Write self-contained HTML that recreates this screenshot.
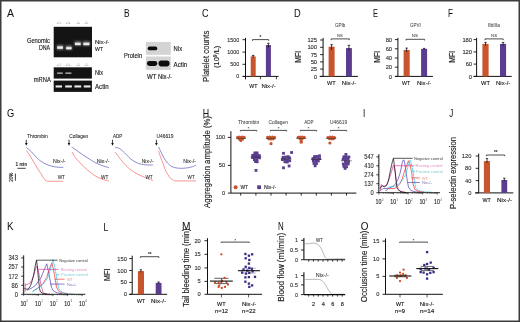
<!DOCTYPE html>
<html><head><meta charset="utf-8"><style>
html,body{margin:0;padding:0;background:#fff;}
svg{display:block;will-change:transform;}
text{font-family:'Liberation Sans', sans-serif;stroke-linejoin:round;}
</style></head><body>
<svg width="520" height="322" viewBox="0 0 520 322">
<defs>
<filter id="b05" x="-50%" y="-50%" width="200%" height="200%"><feGaussianBlur stdDeviation="0.45"/></filter>
<filter id="b08" x="-50%" y="-50%" width="200%" height="200%"><feGaussianBlur stdDeviation="0.8"/></filter>
<filter id="b03" x="-50%" y="-50%" width="200%" height="200%"><feGaussianBlur stdDeviation="0.3"/></filter>
</defs>
<rect x="0" y="0" width="520" height="322" fill="#fff"/>
<text x="7" y="16.9" font-size="11" fill="#111" stroke="#111" stroke-width="0.02" textLength="7" lengthAdjust="spacingAndGlyphs" >A</text>
<text x="56.6" y="24" font-size="3.6" fill="#808080" textLength="4.7" lengthAdjust="spacingAndGlyphs">+/+</text>
<text x="65.7" y="24" font-size="3.6" fill="#808080" textLength="5.3" lengthAdjust="spacingAndGlyphs">+/+</text>
<text x="76.3" y="24" font-size="3.6" fill="#808080" textLength="4" lengthAdjust="spacingAndGlyphs">-/-</text>
<text x="84.3" y="24" font-size="3.6" fill="#808080" textLength="4.1" lengthAdjust="spacingAndGlyphs">-/-</text>
<text x="56.6" y="65.7" font-size="3.6" fill="#808080" textLength="4.7" lengthAdjust="spacingAndGlyphs">+/+</text>
<text x="65.7" y="65.7" font-size="3.6" fill="#808080" textLength="5.3" lengthAdjust="spacingAndGlyphs">+/+</text>
<text x="76.3" y="65.7" font-size="3.6" fill="#808080" textLength="4" lengthAdjust="spacingAndGlyphs">-/-</text>
<text x="84.3" y="65.7" font-size="3.6" fill="#808080" textLength="4.1" lengthAdjust="spacingAndGlyphs">-/-</text>
<rect x="53.7" y="26.8" width="38.3" height="30.5" fill="#141414" />
<rect x="53.7" y="67.3" width="38.2" height="11.3" fill="#141414" />
<rect x="53.7" y="80.6" width="38.2" height="11.3" fill="#141414" />
<rect x="56.8" y="44.9" width="6.6" height="4.9" fill="#7a7a7a" filter="url(#b08)"/>
<rect x="57.2" y="46.2" width="5.8" height="2.6" fill="#d8d8d8" filter="url(#b05)"/>
<rect x="57.7" y="47.2" width="4.8" height="1.2" fill="#f4f4f4" filter="url(#b05)"/>
<rect x="65.7" y="45.5" width="6.3" height="4.3" fill="#7a7a7a" filter="url(#b08)"/>
<rect x="66.1" y="46.8" width="5.5" height="2.6" fill="#d8d8d8" filter="url(#b05)"/>
<rect x="66.6" y="47.8" width="4.5" height="1.2" fill="#f4f4f4" filter="url(#b05)"/>
<rect x="74.5" y="41.3" width="6.6" height="4.3" fill="#7a7a7a" filter="url(#b08)"/>
<rect x="74.9" y="42.6" width="5.8" height="2.6" fill="#d8d8d8" filter="url(#b05)"/>
<rect x="75.4" y="43.6" width="4.8" height="1.2" fill="#f4f4f4" filter="url(#b05)"/>
<rect x="82.9" y="41.3" width="7" height="4.5" fill="#7a7a7a" filter="url(#b08)"/>
<rect x="83.3" y="42.6" width="6.2" height="2.6" fill="#d8d8d8" filter="url(#b05)"/>
<rect x="83.8" y="43.6" width="5.2" height="1.2" fill="#f4f4f4" filter="url(#b05)"/>
<rect x="57.1" y="72.5" width="5.6" height="1.3" fill="#bdbdbd" filter="url(#b05)"/>
<rect x="65.4" y="72.5" width="6" height="1.3" fill="#bdbdbd" filter="url(#b05)"/>
<rect x="55.6" y="85.4" width="6.4" height="2.1" fill="#ececec" filter="url(#b05)"/>
<rect x="65.2" y="85.4" width="6.7" height="2.1" fill="#ececec" filter="url(#b05)"/>
<rect x="74.4" y="85.4" width="6.8" height="2.1" fill="#ececec" filter="url(#b05)"/>
<rect x="83.8" y="85.4" width="6.7" height="2.1" fill="#ececec" filter="url(#b05)"/>
<text x="26.9" y="42.9" font-size="6.8" fill="#1e1e1e" stroke="#1e1e1e" stroke-width="0.15" textLength="23.1" lengthAdjust="spacingAndGlyphs" >Genomic</text>
<text x="38.9" y="49.7" font-size="6.8" fill="#1e1e1e" stroke="#1e1e1e" stroke-width="0.15" textLength="11.1" lengthAdjust="spacingAndGlyphs" >DNA</text>
<text x="95" y="44.4" font-size="6.2" fill="#1e1e1e" stroke="#1e1e1e" stroke-width="0.15" textLength="14.3" lengthAdjust="spacingAndGlyphs" >Nix-/-</text>
<text x="95" y="51" font-size="6.2" fill="#1e1e1e" stroke="#1e1e1e" stroke-width="0.15" textLength="8" lengthAdjust="spacingAndGlyphs" >WT</text>
<text x="95" y="75.4" font-size="6.5" fill="#1e1e1e" stroke="#1e1e1e" stroke-width="0.15" textLength="8.1" lengthAdjust="spacingAndGlyphs" >Nix</text>
<text x="95" y="88.7" font-size="6.5" fill="#1e1e1e" stroke="#1e1e1e" stroke-width="0.15" textLength="13.6" lengthAdjust="spacingAndGlyphs" >Actin</text>
<text x="33.8" y="82" font-size="6.5" fill="#1e1e1e" stroke="#1e1e1e" stroke-width="0.15" textLength="17" lengthAdjust="spacingAndGlyphs" >mRNA</text>
<text x="124" y="16.9" font-size="11" fill="#111" stroke="#111" stroke-width="0.02" textLength="5.6" lengthAdjust="spacingAndGlyphs" >B</text>
<rect x="145.8" y="41.9" width="25" height="12.9" fill="#d4d4d4" />
<rect x="145.8" y="56.5" width="25" height="13.4" fill="#d4d4d4" />
<rect x="147.7" y="46.5" width="9.6" height="3.8" rx="1.9" fill="#0e0e0e" filter="url(#b05)"/>
<rect x="146.9" y="61.0" width="10.4" height="5.0" rx="2.4" fill="#0e0e0e" filter="url(#b05)"/>
<rect x="158.5" y="60.5" width="11.1" height="5.9" rx="2.8" fill="#0e0e0e" filter="url(#b05)"/>
<text x="173.6" y="51" font-size="6.5" fill="#1e1e1e" stroke="#1e1e1e" stroke-width="0.15" textLength="8.5" lengthAdjust="spacingAndGlyphs" >Nix</text>
<text x="173.6" y="66.7" font-size="6.5" fill="#1e1e1e" stroke="#1e1e1e" stroke-width="0.15" textLength="13.6" lengthAdjust="spacingAndGlyphs" >Actin</text>
<text x="123.9" y="57.7" font-size="6.5" fill="#1e1e1e" stroke="#1e1e1e" stroke-width="0.15" textLength="18.2" lengthAdjust="spacingAndGlyphs" >Protein</text>
<text x="147" y="78.6" font-size="6.5" fill="#1e1e1e" stroke="#1e1e1e" stroke-width="0.15" textLength="9.4" lengthAdjust="spacingAndGlyphs" >WT</text>
<text x="157.9" y="78.6" font-size="6.5" fill="#1e1e1e" stroke="#1e1e1e" stroke-width="0.15" textLength="14.2" lengthAdjust="spacingAndGlyphs" >Nix-/-</text>
<text x="202.1" y="16.9" font-size="11" fill="#111" stroke="#111" stroke-width="0.02" textLength="6.5" lengthAdjust="spacingAndGlyphs" >C</text>
<line x1="245.5" y1="37.9" x2="245.5" y2="79.3" stroke="#111" stroke-width="1" />
<line x1="242.9" y1="76.4" x2="278.6" y2="76.4" stroke="#111" stroke-width="1" />
<line x1="260.4" y1="76.4" x2="260.4" y2="79.3" stroke="#111" stroke-width="0.8" />
<line x1="276.4" y1="76.4" x2="276.4" y2="79.3" stroke="#111" stroke-width="0.8" />
<line x1="242.5" y1="39.7" x2="245.5" y2="39.7" stroke="#111" stroke-width="0.9" />
<text x="227.33" y="41.63" font-size="5.6" fill="#2a2a2a" stroke="#2a2a2a" stroke-width="0.1" textLength="11.87" lengthAdjust="spacingAndGlyphs">1500</text>
<line x1="242.5" y1="52.1" x2="245.5" y2="52.1" stroke="#111" stroke-width="0.9" />
<text x="227.33" y="54.03" font-size="5.6" fill="#2a2a2a" stroke="#2a2a2a" stroke-width="0.1" textLength="11.87" lengthAdjust="spacingAndGlyphs">1000</text>
<line x1="242.5" y1="64.3" x2="245.5" y2="64.3" stroke="#111" stroke-width="0.9" />
<text x="230.3" y="66.23" font-size="5.6" fill="#2a2a2a" stroke="#2a2a2a" stroke-width="0.1" textLength="8.9" lengthAdjust="spacingAndGlyphs">500</text>
<line x1="242.5" y1="76.4" x2="245.5" y2="76.4" stroke="#111" stroke-width="0.9" />
<text x="236.23" y="78.33" font-size="5.6" fill="#2a2a2a" stroke="#2a2a2a" stroke-width="0.1" textLength="2.97" lengthAdjust="spacingAndGlyphs">0</text>
<rect x="250.7" y="56.4" width="5" height="20" fill="#c9552f" />
<rect x="265.9" y="45" width="5" height="31.4" fill="#5a3d8e" />
<line x1="253.2" y1="55.4" x2="253.2" y2="57.4" stroke="#111" stroke-width="0.8" />
<line x1="252" y1="55.4" x2="254.4" y2="55.4" stroke="#111" stroke-width="0.8" />
<line x1="268.4" y1="43.3" x2="268.4" y2="47.4" stroke="#111" stroke-width="0.8" />
<line x1="267.2" y1="43.3" x2="269.6" y2="43.3" stroke="#111" stroke-width="0.8" />
<path d="M252.5,40.8 L252.5,39.6 L268.6,39.6 L268.6,40.8" fill="none" stroke="#222" stroke-width="0.8" />
<text x="260.5" y="39" font-size="4.5" fill="#222" stroke="#222" stroke-width="0.15" text-anchor="middle">*</text>
<text x="249.3" y="87.9" font-size="6" fill="#1e1e1e" stroke="#1e1e1e" stroke-width="0.15" textLength="8.1" lengthAdjust="spacingAndGlyphs" >WT</text>
<text x="261.4" y="87.9" font-size="6" fill="#1e1e1e" stroke="#1e1e1e" stroke-width="0.15" textLength="14.3" lengthAdjust="spacingAndGlyphs" >Nix-/-</text>
<text transform="translate(209.1,82) rotate(-90)" x="0" y="0" font-size="8.2" fill="#1e1e1e" stroke="#1e1e1e" stroke-width="0.15" textLength="51.3" lengthAdjust="spacingAndGlyphs">Platelet counts</text>
<text transform="translate(219.4,67.9) rotate(-90)" x="0" y="0" font-size="6.8" fill="#1e1e1e" stroke="#1e1e1e" stroke-width="0.15" textLength="22.2" lengthAdjust="spacingAndGlyphs">(10<tspan font-size="4.6" dy="-2.8">9</tspan><tspan dy="2.8">/L)</tspan></text>
<text x="294" y="16.9" font-size="11" fill="#111" stroke="#111" stroke-width="0.02" textLength="6.7" lengthAdjust="spacingAndGlyphs" >D</text>
<text x="335" y="27.1" font-size="4.8" fill="#444" stroke="#444" stroke-width="0.04" textLength="10.4" lengthAdjust="spacingAndGlyphs" >GPIb</text>
<text x="337.1" y="36.9" font-size="4.2" fill="#444" stroke="#444" stroke-width="0.04" textLength="5.8" lengthAdjust="spacingAndGlyphs" >NS</text>
<path d="M331.1,40.1 L331.1,38.9 L349.3,38.9 L349.3,40.1" fill="none" stroke="#222" stroke-width="0.8" />
<line x1="323.1" y1="37.9" x2="323.1" y2="76.4" stroke="#111" stroke-width="1" />
<line x1="319.7" y1="76.4" x2="357.9" y2="76.4" stroke="#111" stroke-width="1" />
<line x1="320.1" y1="40" x2="323.1" y2="40" stroke="#111" stroke-width="0.9" />
<text x="307.4" y="42.1" font-size="6.1" fill="#2a2a2a" stroke="#2a2a2a" stroke-width="0.1" textLength="9.7" lengthAdjust="spacingAndGlyphs">125</text>
<line x1="320.1" y1="47.3" x2="323.1" y2="47.3" stroke="#111" stroke-width="0.9" />
<text x="307.4" y="49.4" font-size="6.1" fill="#2a2a2a" stroke="#2a2a2a" stroke-width="0.1" textLength="9.7" lengthAdjust="spacingAndGlyphs">100</text>
<line x1="320.1" y1="54.6" x2="323.1" y2="54.6" stroke="#111" stroke-width="0.9" />
<text x="310.63" y="56.7" font-size="6.1" fill="#2a2a2a" stroke="#2a2a2a" stroke-width="0.1" textLength="6.47" lengthAdjust="spacingAndGlyphs">75</text>
<line x1="320.1" y1="61.9" x2="323.1" y2="61.9" stroke="#111" stroke-width="0.9" />
<text x="310.63" y="64" font-size="6.1" fill="#2a2a2a" stroke="#2a2a2a" stroke-width="0.1" textLength="6.47" lengthAdjust="spacingAndGlyphs">50</text>
<line x1="320.1" y1="69.1" x2="323.1" y2="69.1" stroke="#111" stroke-width="0.9" />
<text x="310.63" y="71.2" font-size="6.1" fill="#2a2a2a" stroke="#2a2a2a" stroke-width="0.1" textLength="6.47" lengthAdjust="spacingAndGlyphs">25</text>
<line x1="320.1" y1="76.4" x2="323.1" y2="76.4" stroke="#111" stroke-width="0.9" />
<text x="313.87" y="78.5" font-size="6.1" fill="#2a2a2a" stroke="#2a2a2a" stroke-width="0.1" textLength="3.23" lengthAdjust="spacingAndGlyphs">0</text>
<rect x="328.6" y="46.7" width="6" height="29.7" fill="#c9552f" />
<rect x="346" y="48.1" width="5.9" height="28.3" fill="#5a3d8e" />
<line x1="331.6" y1="44.6" x2="331.6" y2="50" stroke="#111" stroke-width="0.8" />
<line x1="330.4" y1="44.6" x2="332.8" y2="44.6" stroke="#111" stroke-width="0.8" />
<line x1="348.9" y1="45.3" x2="348.9" y2="50.3" stroke="#111" stroke-width="0.8" />
<line x1="347.7" y1="45.3" x2="350.1" y2="45.3" stroke="#111" stroke-width="0.8" />
<text x="327.1" y="85" font-size="6" fill="#1e1e1e" stroke="#1e1e1e" stroke-width="0.15" textLength="8.6" lengthAdjust="spacingAndGlyphs" >WT</text>
<text x="341.7" y="85" font-size="6" fill="#1e1e1e" stroke="#1e1e1e" stroke-width="0.15" textLength="14.7" lengthAdjust="spacingAndGlyphs" >Nix-/-</text>
<text transform="translate(301,62.8) rotate(-90)" x="0" y="0" font-size="8.5" fill="#1e1e1e" stroke="#1e1e1e" stroke-width="0.15" textLength="12" lengthAdjust="spacingAndGlyphs">MFI</text>
<text x="372.9" y="16.9" font-size="11" fill="#111" stroke="#111" stroke-width="0.02" textLength="5" lengthAdjust="spacingAndGlyphs" >E</text>
<text x="410" y="27.1" font-size="4.8" fill="#444" stroke="#444" stroke-width="0.04" textLength="10.7" lengthAdjust="spacingAndGlyphs" >GPVI</text>
<text x="411.7" y="36.9" font-size="4.2" fill="#444" stroke="#444" stroke-width="0.04" textLength="6.2" lengthAdjust="spacingAndGlyphs" >NS</text>
<path d="M406,40.5 L406,39.3 L424.6,39.3 L424.6,40.5" fill="none" stroke="#222" stroke-width="0.8" />
<line x1="397.9" y1="37.9" x2="397.9" y2="76.4" stroke="#111" stroke-width="1" />
<line x1="395" y1="76.4" x2="432.9" y2="76.4" stroke="#111" stroke-width="1" />
<line x1="394.9" y1="39.6" x2="397.9" y2="39.6" stroke="#111" stroke-width="0.9" />
<text x="385.63" y="41.7" font-size="6.1" fill="#2a2a2a" stroke="#2a2a2a" stroke-width="0.1" textLength="6.47" lengthAdjust="spacingAndGlyphs">80</text>
<line x1="394.9" y1="48.8" x2="397.9" y2="48.8" stroke="#111" stroke-width="0.9" />
<text x="385.63" y="50.9" font-size="6.1" fill="#2a2a2a" stroke="#2a2a2a" stroke-width="0.1" textLength="6.47" lengthAdjust="spacingAndGlyphs">60</text>
<line x1="394.9" y1="58" x2="397.9" y2="58" stroke="#111" stroke-width="0.9" />
<text x="385.63" y="60.1" font-size="6.1" fill="#2a2a2a" stroke="#2a2a2a" stroke-width="0.1" textLength="6.47" lengthAdjust="spacingAndGlyphs">40</text>
<line x1="394.9" y1="67.2" x2="397.9" y2="67.2" stroke="#111" stroke-width="0.9" />
<text x="385.63" y="69.3" font-size="6.1" fill="#2a2a2a" stroke="#2a2a2a" stroke-width="0.1" textLength="6.47" lengthAdjust="spacingAndGlyphs">20</text>
<line x1="394.9" y1="76.4" x2="397.9" y2="76.4" stroke="#111" stroke-width="0.9" />
<text x="388.87" y="78.5" font-size="6.1" fill="#2a2a2a" stroke="#2a2a2a" stroke-width="0.1" textLength="3.23" lengthAdjust="spacingAndGlyphs">0</text>
<rect x="403.6" y="50" width="6.1" height="26.4" fill="#c9552f" />
<rect x="421.1" y="48.9" width="6" height="27.5" fill="#5a3d8e" />
<line x1="406.6" y1="48.1" x2="406.6" y2="52" stroke="#111" stroke-width="0.8" />
<line x1="405.4" y1="48.1" x2="407.8" y2="48.1" stroke="#111" stroke-width="0.8" />
<line x1="424.1" y1="48.4" x2="424.1" y2="49.4" stroke="#111" stroke-width="0.8" />
<line x1="422.9" y1="48.4" x2="425.3" y2="48.4" stroke="#111" stroke-width="0.8" />
<text x="402.1" y="85" font-size="6" fill="#1e1e1e" stroke="#1e1e1e" stroke-width="0.15" textLength="8.2" lengthAdjust="spacingAndGlyphs" >WT</text>
<text x="416.9" y="85" font-size="6" fill="#1e1e1e" stroke="#1e1e1e" stroke-width="0.15" textLength="14.5" lengthAdjust="spacingAndGlyphs" >Nix-/-</text>
<text transform="translate(380,62.8) rotate(-90)" x="0" y="0" font-size="8.5" fill="#1e1e1e" stroke="#1e1e1e" stroke-width="0.15" textLength="12" lengthAdjust="spacingAndGlyphs">MFI</text>
<text x="447.9" y="16.9" font-size="11" fill="#111" stroke="#111" stroke-width="0.02" textLength="5" lengthAdjust="spacingAndGlyphs" >F</text>
<text x="487.9" y="27.1" font-size="4.8" fill="#444" stroke="#444" stroke-width="0.04" textLength="12.1" lengthAdjust="spacingAndGlyphs" >IIbIIIa</text>
<text x="491.1" y="36.9" font-size="4.2" fill="#444" stroke="#444" stroke-width="0.04" textLength="6" lengthAdjust="spacingAndGlyphs" >NS</text>
<path d="M485,40.1 L485,38.9 L503.2,38.9 L503.2,40.1" fill="none" stroke="#222" stroke-width="0.8" />
<line x1="476.6" y1="37.9" x2="476.6" y2="76.4" stroke="#111" stroke-width="1" />
<line x1="473.6" y1="76.4" x2="511.7" y2="76.4" stroke="#111" stroke-width="1" />
<line x1="473.6" y1="39.6" x2="476.6" y2="39.6" stroke="#111" stroke-width="0.9" />
<text x="462.4" y="41.7" font-size="6.1" fill="#2a2a2a" stroke="#2a2a2a" stroke-width="0.1" textLength="9.7" lengthAdjust="spacingAndGlyphs">180</text>
<line x1="473.6" y1="51.9" x2="476.6" y2="51.9" stroke="#111" stroke-width="0.9" />
<text x="462.4" y="54" font-size="6.1" fill="#2a2a2a" stroke="#2a2a2a" stroke-width="0.1" textLength="9.7" lengthAdjust="spacingAndGlyphs">120</text>
<line x1="473.6" y1="64.1" x2="476.6" y2="64.1" stroke="#111" stroke-width="0.9" />
<text x="465.63" y="66.2" font-size="6.1" fill="#2a2a2a" stroke="#2a2a2a" stroke-width="0.1" textLength="6.47" lengthAdjust="spacingAndGlyphs">60</text>
<line x1="473.6" y1="76.4" x2="476.6" y2="76.4" stroke="#111" stroke-width="0.9" />
<text x="468.87" y="78.5" font-size="6.1" fill="#2a2a2a" stroke="#2a2a2a" stroke-width="0.1" textLength="3.23" lengthAdjust="spacingAndGlyphs">0</text>
<rect x="482.4" y="43.9" width="6.2" height="32.5" fill="#c9552f" />
<rect x="500" y="43.9" width="6.1" height="32.5" fill="#5a3d8e" />
<line x1="485.5" y1="42.4" x2="485.5" y2="45.7" stroke="#111" stroke-width="0.8" />
<line x1="484.3" y1="42.4" x2="486.7" y2="42.4" stroke="#111" stroke-width="0.8" />
<line x1="503.1" y1="42.4" x2="503.1" y2="45.7" stroke="#111" stroke-width="0.8" />
<line x1="501.9" y1="42.4" x2="504.3" y2="42.4" stroke="#111" stroke-width="0.8" />
<text x="481.1" y="85" font-size="6" fill="#1e1e1e" stroke="#1e1e1e" stroke-width="0.15" textLength="8.9" lengthAdjust="spacingAndGlyphs" >WT</text>
<text x="496" y="85" font-size="6" fill="#1e1e1e" stroke="#1e1e1e" stroke-width="0.15" textLength="14.3" lengthAdjust="spacingAndGlyphs" >Nix-/-</text>
<text transform="translate(455,62.8) rotate(-90)" x="0" y="0" font-size="8.5" fill="#1e1e1e" stroke="#1e1e1e" stroke-width="0.15" textLength="12" lengthAdjust="spacingAndGlyphs">MFI</text>
<text x="7.1" y="116.9" font-size="11" fill="#111" stroke="#111" stroke-width="0.02" textLength="7.2" lengthAdjust="spacingAndGlyphs" >G</text>
<text x="15.4" y="165.7" font-size="4.6" fill="#1e1e1e" stroke="#1e1e1e" stroke-width="0.15" textLength="11.7" lengthAdjust="spacingAndGlyphs" >1 min</text>
<line x1="17.4" y1="168.3" x2="25.7" y2="168.3" stroke="#111" stroke-width="0.8" />
<line x1="15.4" y1="173.6" x2="15.4" y2="180.7" stroke="#111" stroke-width="0.8" />
<text transform="translate(12.8,181.7) rotate(-90)" x="0" y="0" font-size="5" fill="#1e1e1e" stroke="#1e1e1e" stroke-width="0.15" textLength="9.1" lengthAdjust="spacingAndGlyphs">20%</text>
<text x="26.9" y="137.6" font-size="4.8" fill="#222" stroke="#222" stroke-width="0.06" textLength="21" lengthAdjust="spacingAndGlyphs" >Thrombin</text>
<line x1="26.3" y1="139.8" x2="26.3" y2="143.7" stroke="#111" stroke-width="0.8" />
<path d="M25,143 L27.6,143 L26.3,145.7 Z" fill="#111"/>
<path d="M26.2,147.4 C27.05,148.12 29.65,150.08 31.3,151.7 C32.95,153.32 34.5,155.5 36.1,157.1 C37.7,158.7 39.28,160.13 40.9,161.3 C42.52,162.47 43.98,163.28 45.8,164.1 C47.62,164.92 49.78,165.68 51.8,166.2 C53.82,166.72 55.98,167 57.9,167.2 C59.82,167.4 62.4,167.37 63.3,167.4" fill="none" stroke="#5a5ab8" stroke-width="0.7" />
<path d="M26.2,150.4 C26.85,151.32 28.85,153.97 30.1,155.9 C31.35,157.83 32.5,159.98 33.7,162 C34.9,164.02 36.1,166.08 37.3,168 C38.5,169.92 39.88,171.88 40.9,173.5 C41.92,175.12 42.68,176.6 43.4,177.7 C44.12,178.8 44.6,179.53 45.2,180.1 C45.8,180.67 46.2,180.9 47,181.1 C47.8,181.3 47.28,181.27 50,181.3 C52.72,181.33 61.08,181.3 63.3,181.3" fill="none" stroke="#f46464" stroke-width="0.7" />
<text x="53.1" y="162.5" font-size="4.8" fill="#222" stroke="#222" stroke-width="0.06" textLength="12.5" lengthAdjust="spacingAndGlyphs" >Nix-/-</text>
<text x="57.7" y="178.7" font-size="4.8" fill="#222" stroke="#222" stroke-width="0.06" textLength="7.2" lengthAdjust="spacingAndGlyphs" >WT</text>
<text x="69.3" y="137.6" font-size="4.8" fill="#222" stroke="#222" stroke-width="0.06" textLength="19" lengthAdjust="spacingAndGlyphs" >Collagen</text>
<line x1="69" y1="139.8" x2="69" y2="143.7" stroke="#111" stroke-width="0.8" />
<path d="M67.7,143 L70.3,143 L69,145.7 Z" fill="#111"/>
<path d="M71.7,146.9 C72.65,147.57 75.5,149.53 77.4,150.9 C79.3,152.27 81.18,153.8 83.1,155.1 C85.02,156.4 86.98,157.5 88.9,158.7 C90.82,159.9 92.47,161.18 94.6,162.3 C96.73,163.42 99.32,164.5 101.7,165.4 C104.08,166.3 107.7,167.32 108.9,167.7" fill="none" stroke="#5a5ab8" stroke-width="0.7" />
<path d="M72,152 C72.43,152.77 73.45,155 74.6,156.6 C75.75,158.2 77.23,159.82 78.9,161.6 C80.57,163.38 82.7,165.52 84.6,167.3 C86.5,169.08 88.4,170.8 90.3,172.3 C92.2,173.8 94.1,175.18 96,176.3 C97.9,177.42 99.55,178.23 101.7,179 C103.85,179.77 107.7,180.58 108.9,180.9" fill="none" stroke="#f46464" stroke-width="0.7" />
<text x="96.7" y="162.5" font-size="4.8" fill="#222" stroke="#222" stroke-width="0.06" textLength="12.9" lengthAdjust="spacingAndGlyphs" >Nix-/-</text>
<text x="101" y="178.7" font-size="4.8" fill="#222" stroke="#222" stroke-width="0.06" textLength="7.4" lengthAdjust="spacingAndGlyphs" >WT</text>
<text x="112.9" y="137.6" font-size="4.8" fill="#222" stroke="#222" stroke-width="0.06" textLength="9.5" lengthAdjust="spacingAndGlyphs" >ADP</text>
<line x1="112.5" y1="139.8" x2="112.5" y2="143.7" stroke="#111" stroke-width="0.8" />
<path d="M111.2,143 L113.8,143 L112.5,145.7 Z" fill="#111"/>
<path d="M115,147.3 C115.5,147.4 117,147.52 118,147.9 C119,148.28 119.95,148.82 121,149.6 C122.05,150.38 123.03,151.38 124.3,152.6 C125.57,153.82 127.17,155.57 128.6,156.9 C130.03,158.23 131.23,159.5 132.9,160.6 C134.57,161.7 136.47,162.8 138.6,163.5 C140.73,164.2 143.32,164.55 145.7,164.8 C148.08,165.05 151.7,164.97 152.9,165" fill="none" stroke="#5a5ab8" stroke-width="0.7" />
<path d="M115,152 C115.6,152.77 117.28,154.88 118.6,156.6 C119.92,158.32 121.23,160.4 122.9,162.3 C124.57,164.2 126.7,166.33 128.6,168 C130.5,169.67 132.17,170.98 134.3,172.3 C136.43,173.62 139.27,174.9 141.4,175.9 C143.53,176.9 145.18,177.52 147.1,178.3 C149.02,179.08 151.93,180.22 152.9,180.6" fill="none" stroke="#f46464" stroke-width="0.7" />
<text x="141.7" y="162.5" font-size="4.8" fill="#222" stroke="#222" stroke-width="0.06" textLength="11.9" lengthAdjust="spacingAndGlyphs" >Nix-/-</text>
<text x="145.4" y="178.7" font-size="4.8" fill="#222" stroke="#222" stroke-width="0.06" textLength="7.2" lengthAdjust="spacingAndGlyphs" >WT</text>
<text x="156.4" y="137.6" font-size="4.8" fill="#222" stroke="#222" stroke-width="0.06" textLength="17.2" lengthAdjust="spacingAndGlyphs" >U46619</text>
<line x1="156.4" y1="139.8" x2="156.4" y2="143.7" stroke="#111" stroke-width="0.8" />
<path d="M155.1,143 L157.7,143 L156.4,145.7 Z" fill="#111"/>
<path d="M158.6,146.9 C159.02,147.8 160.2,150.45 161.1,152.3 C162,154.15 162.92,156.22 164,158 C165.08,159.78 166.28,161.57 167.6,163 C168.92,164.43 170.35,165.77 171.9,166.6 C173.45,167.43 175.12,167.72 176.9,168 C178.68,168.28 180.7,168.35 182.6,168.3 C184.5,168.25 186.63,167.98 188.3,167.7 C189.97,167.42 191.3,167.03 192.6,166.6 C193.9,166.17 195.52,165.35 196.1,165.1" fill="none" stroke="#5a5ab8" stroke-width="0.7" />
<path d="M158.6,151.1 C158.9,152.02 159.62,154.38 160.4,156.6 C161.18,158.82 162.35,161.9 163.3,164.4 C164.25,166.9 165.03,169.45 166.1,171.6 C167.17,173.75 168.55,175.87 169.7,177.3 C170.85,178.73 171.8,179.6 173,180.2 C174.2,180.8 173.05,180.78 176.9,180.9 C180.75,181.02 192.9,180.9 196.1,180.9" fill="none" stroke="#f46464" stroke-width="0.7" />
<text x="183.3" y="162.5" font-size="4.8" fill="#222" stroke="#222" stroke-width="0.06" textLength="12.8" lengthAdjust="spacingAndGlyphs" >Nix-/-</text>
<text x="187.6" y="178.7" font-size="4.8" fill="#222" stroke="#222" stroke-width="0.06" textLength="7.1" lengthAdjust="spacingAndGlyphs" >WT</text>
<text x="202.8" y="116.9" font-size="11" fill="#111" stroke="#111" stroke-width="0.02" textLength="6.4" lengthAdjust="spacingAndGlyphs" >H</text>
<text transform="translate(210.3,207.9) rotate(-90)" x="0" y="0" font-size="9.6" fill="#1e1e1e" stroke="#1e1e1e" stroke-width="0.15" textLength="91.9" lengthAdjust="spacingAndGlyphs">Aggregation amplitude (%)</text>
<line x1="230.9" y1="131.2" x2="230.9" y2="193.1" stroke="#111" stroke-width="1" />
<line x1="230.9" y1="193.1" x2="356.4" y2="193.1" stroke="#111" stroke-width="1" />
<line x1="240.7" y1="193.1" x2="240.7" y2="195.6" stroke="#111" stroke-width="0.9" />
<line x1="255.9" y1="193.1" x2="255.9" y2="195.6" stroke="#111" stroke-width="0.9" />
<line x1="271" y1="193.1" x2="271" y2="195.6" stroke="#111" stroke-width="0.9" />
<line x1="286.1" y1="193.1" x2="286.1" y2="195.6" stroke="#111" stroke-width="0.9" />
<line x1="301.2" y1="193.1" x2="301.2" y2="195.6" stroke="#111" stroke-width="0.9" />
<line x1="316.3" y1="193.1" x2="316.3" y2="195.6" stroke="#111" stroke-width="0.9" />
<line x1="331.4" y1="193.1" x2="331.4" y2="195.6" stroke="#111" stroke-width="0.9" />
<line x1="346.5" y1="193.1" x2="346.5" y2="195.6" stroke="#111" stroke-width="0.9" />
<line x1="227.9" y1="137.4" x2="230.9" y2="137.4" stroke="#111" stroke-width="0.9" />
<text x="215.66" y="139.46" font-size="6" fill="#2a2a2a" stroke="#2a2a2a" stroke-width="0.1" textLength="9.54" lengthAdjust="spacingAndGlyphs">100</text>
<line x1="227.9" y1="165.4" x2="230.9" y2="165.4" stroke="#111" stroke-width="0.9" />
<text x="218.84" y="167.46" font-size="6" fill="#2a2a2a" stroke="#2a2a2a" stroke-width="0.1" textLength="6.36" lengthAdjust="spacingAndGlyphs">50</text>
<line x1="227.9" y1="193.1" x2="230.9" y2="193.1" stroke="#111" stroke-width="0.9" />
<text x="222.02" y="195.16" font-size="6" fill="#2a2a2a" stroke="#2a2a2a" stroke-width="0.1" textLength="3.18" lengthAdjust="spacingAndGlyphs">0</text>
<text x="237.9" y="124.4" font-size="4.6" fill="#3a3a3a" stroke="#3a3a3a" stroke-width="0.03" textLength="21.4" lengthAdjust="spacingAndGlyphs" >Thrombin</text>
<path d="M240.4,131.4 L240.4,130.4 L256.7,130.4 L256.7,131.4" fill="none" stroke="#222" stroke-width="0.8" />
<text x="248.55" y="129.6" font-size="4" fill="#333" stroke="#333" stroke-width="0.15" text-anchor="middle">*</text>
<text x="268.6" y="124.4" font-size="4.6" fill="#3a3a3a" stroke="#3a3a3a" stroke-width="0.03" textLength="19.3" lengthAdjust="spacingAndGlyphs" >Collagen</text>
<path d="M270.4,131.4 L270.4,130.4 L286.7,130.4 L286.7,131.4" fill="none" stroke="#222" stroke-width="0.8" />
<text x="278.55" y="129.6" font-size="4" fill="#333" stroke="#333" stroke-width="0.15" text-anchor="middle">*</text>
<text x="304.3" y="124.4" font-size="4.6" fill="#3a3a3a" stroke="#3a3a3a" stroke-width="0.03" textLength="9.3" lengthAdjust="spacingAndGlyphs" >ADP</text>
<path d="M300.4,131.4 L300.4,130.4 L316.7,130.4 L316.7,131.4" fill="none" stroke="#222" stroke-width="0.8" />
<text x="308.55" y="129.6" font-size="4" fill="#333" stroke="#333" stroke-width="0.15" text-anchor="middle">*</text>
<text x="330" y="124.4" font-size="4.6" fill="#3a3a3a" stroke="#3a3a3a" stroke-width="0.03" textLength="17.1" lengthAdjust="spacingAndGlyphs" >U46619</text>
<path d="M330.4,131.4 L330.4,130.4 L346.7,130.4 L346.7,131.4" fill="none" stroke="#222" stroke-width="0.8" />
<text x="338.55" y="129.6" font-size="4" fill="#333" stroke="#333" stroke-width="0.15" text-anchor="middle">*</text>
<circle cx="237.7" cy="137.3" r="1.6" fill="#c9552f"/>
<circle cx="239.6" cy="137" r="1.6" fill="#c9552f"/>
<circle cx="242.2" cy="137" r="1.6" fill="#c9552f"/>
<circle cx="244.1" cy="137.3" r="1.6" fill="#c9552f"/>
<circle cx="239.2" cy="139" r="1.6" fill="#c9552f"/>
<circle cx="240.9" cy="139.2" r="1.6" fill="#c9552f"/>
<circle cx="242.6" cy="139" r="1.6" fill="#c9552f"/>
<circle cx="240.9" cy="140.5" r="1.6" fill="#c9552f"/>
<line x1="235.9" y1="138.4" x2="245.9" y2="138.4" stroke="#333" stroke-width="0.6" />
<circle cx="267.6" cy="137.4" r="1.6" fill="#c9552f"/>
<circle cx="269.7" cy="137.2" r="1.6" fill="#c9552f"/>
<circle cx="272.3" cy="137.2" r="1.6" fill="#c9552f"/>
<circle cx="274.4" cy="137.4" r="1.6" fill="#c9552f"/>
<circle cx="268.8" cy="138.8" r="1.6" fill="#c9552f"/>
<circle cx="271" cy="139" r="1.6" fill="#c9552f"/>
<circle cx="273.2" cy="138.8" r="1.6" fill="#c9552f"/>
<circle cx="271" cy="143.7" r="1.6" fill="#c9552f"/>
<line x1="266" y1="138.4" x2="276" y2="138.4" stroke="#333" stroke-width="0.6" />
<circle cx="298.2" cy="137.4" r="1.6" fill="#c9552f"/>
<circle cx="300.1" cy="137.2" r="1.6" fill="#c9552f"/>
<circle cx="302.4" cy="137.2" r="1.6" fill="#c9552f"/>
<circle cx="304.2" cy="137.4" r="1.6" fill="#c9552f"/>
<circle cx="300" cy="138.6" r="1.6" fill="#c9552f"/>
<circle cx="302.2" cy="138.6" r="1.6" fill="#c9552f"/>
<circle cx="301.2" cy="141" r="1.6" fill="#c9552f"/>
<circle cx="301.2" cy="142.2" r="1.6" fill="#c9552f"/>
<line x1="296.2" y1="138.4" x2="306.2" y2="138.4" stroke="#333" stroke-width="0.6" />
<circle cx="327.9" cy="137.5" r="1.6" fill="#c9552f"/>
<circle cx="330" cy="137.2" r="1.6" fill="#c9552f"/>
<circle cx="332.5" cy="137.2" r="1.6" fill="#c9552f"/>
<circle cx="334.5" cy="137.5" r="1.6" fill="#c9552f"/>
<circle cx="329.4" cy="138.6" r="1.6" fill="#c9552f"/>
<circle cx="331.6" cy="138.8" r="1.6" fill="#c9552f"/>
<circle cx="333.5" cy="138.6" r="1.6" fill="#c9552f"/>
<circle cx="329.9" cy="143" r="1.6" fill="#c9552f"/>
<line x1="326.2" y1="138.4" x2="336.2" y2="138.4" stroke="#333" stroke-width="0.6" />
<rect x="253.5" y="151.5" width="2.8" height="2.8" fill="#5a3d8e" />
<rect x="255.7" y="151.5" width="2.8" height="2.8" fill="#5a3d8e" />
<rect x="251.3" y="153.9" width="2.8" height="2.8" fill="#5a3d8e" />
<rect x="253.6" y="153.6" width="2.8" height="2.8" fill="#5a3d8e" />
<rect x="255.8" y="153.6" width="2.8" height="2.8" fill="#5a3d8e" />
<rect x="258" y="154.2" width="2.8" height="2.8" fill="#5a3d8e" />
<rect x="251.2" y="156.2" width="2.8" height="2.8" fill="#5a3d8e" />
<rect x="253.5" y="156" width="2.8" height="2.8" fill="#5a3d8e" />
<rect x="255.7" y="156" width="2.8" height="2.8" fill="#5a3d8e" />
<rect x="258" y="156.5" width="2.8" height="2.8" fill="#5a3d8e" />
<rect x="253" y="158.4" width="2.8" height="2.8" fill="#5a3d8e" />
<rect x="255.4" y="158.4" width="2.8" height="2.8" fill="#5a3d8e" />
<rect x="254.2" y="160.2" width="2.8" height="2.8" fill="#5a3d8e" />
<rect x="255.8" y="160.4" width="2.8" height="2.8" fill="#5a3d8e" />
<rect x="254.6" y="169" width="2.8" height="2.8" fill="#5a3d8e" />
<line x1="250.6" y1="157.14" x2="261.4" y2="157.14" stroke="#333" stroke-width="0.6" />
<rect x="282.1" y="151.9" width="2.8" height="2.8" fill="#5a3d8e" />
<rect x="290.2" y="151.1" width="2.8" height="2.8" fill="#5a3d8e" />
<rect x="281.7" y="156" width="2.8" height="2.8" fill="#5a3d8e" />
<rect x="284.1" y="155.6" width="2.8" height="2.8" fill="#5a3d8e" />
<rect x="286.7" y="155.2" width="2.8" height="2.8" fill="#5a3d8e" />
<rect x="288.1" y="156.4" width="2.8" height="2.8" fill="#5a3d8e" />
<rect x="281" y="158.2" width="2.8" height="2.8" fill="#5a3d8e" />
<rect x="283.5" y="158" width="2.8" height="2.8" fill="#5a3d8e" />
<rect x="286.1" y="158.2" width="2.8" height="2.8" fill="#5a3d8e" />
<rect x="288.3" y="159.4" width="2.8" height="2.8" fill="#5a3d8e" />
<rect x="283.5" y="160.4" width="2.8" height="2.8" fill="#5a3d8e" />
<rect x="285.9" y="160.6" width="2.8" height="2.8" fill="#5a3d8e" />
<rect x="282.1" y="166.4" width="2.8" height="2.8" fill="#5a3d8e" />
<rect x="287.7" y="164.6" width="2.8" height="2.8" fill="#5a3d8e" />
<line x1="280.7" y1="158.89" x2="291.5" y2="158.89" stroke="#333" stroke-width="0.6" />
<rect x="313.1" y="155.2" width="2.8" height="2.8" fill="#5a3d8e" />
<rect x="315.5" y="155" width="2.8" height="2.8" fill="#5a3d8e" />
<rect x="318.1" y="154.4" width="2.8" height="2.8" fill="#5a3d8e" />
<rect x="311.5" y="157.2" width="2.8" height="2.8" fill="#5a3d8e" />
<rect x="313.9" y="157.2" width="2.8" height="2.8" fill="#5a3d8e" />
<rect x="316.5" y="157.2" width="2.8" height="2.8" fill="#5a3d8e" />
<rect x="318.3" y="157.2" width="2.8" height="2.8" fill="#5a3d8e" />
<rect x="311.9" y="159.6" width="2.8" height="2.8" fill="#5a3d8e" />
<rect x="314.3" y="159.8" width="2.8" height="2.8" fill="#5a3d8e" />
<rect x="316.9" y="159.6" width="2.8" height="2.8" fill="#5a3d8e" />
<rect x="312.6" y="162.1" width="2.8" height="2.8" fill="#5a3d8e" />
<rect x="315.1" y="162.2" width="2.8" height="2.8" fill="#5a3d8e" />
<rect x="313.7" y="164.4" width="2.8" height="2.8" fill="#5a3d8e" />
<line x1="310.9" y1="159.46" x2="321.7" y2="159.46" stroke="#333" stroke-width="0.6" />
<rect x="344.5" y="153" width="2.8" height="2.8" fill="#5a3d8e" />
<rect x="342.4" y="155.4" width="2.8" height="2.8" fill="#5a3d8e" />
<rect x="344.9" y="155.4" width="2.8" height="2.8" fill="#5a3d8e" />
<rect x="347.5" y="155.6" width="2.8" height="2.8" fill="#5a3d8e" />
<rect x="341.7" y="157.9" width="2.8" height="2.8" fill="#5a3d8e" />
<rect x="344.1" y="158" width="2.8" height="2.8" fill="#5a3d8e" />
<rect x="346.7" y="157.8" width="2.8" height="2.8" fill="#5a3d8e" />
<rect x="344.1" y="160.2" width="2.8" height="2.8" fill="#5a3d8e" />
<rect x="347.1" y="160.4" width="2.8" height="2.8" fill="#5a3d8e" />
<rect x="341.9" y="162.6" width="2.8" height="2.8" fill="#5a3d8e" />
<rect x="344.3" y="162.8" width="2.8" height="2.8" fill="#5a3d8e" />
<rect x="346.8" y="162.6" width="2.8" height="2.8" fill="#5a3d8e" />
<rect x="342.5" y="165" width="2.8" height="2.8" fill="#5a3d8e" />
<rect x="345.1" y="165.4" width="2.8" height="2.8" fill="#5a3d8e" />
<rect x="343.7" y="167" width="2.8" height="2.8" fill="#5a3d8e" />
<line x1="340.9" y1="160.84" x2="351.7" y2="160.84" stroke="#333" stroke-width="0.6" />
<circle cx="235.6" cy="187.2" r="2.05" fill="#c9552f"/>
<text x="240.4" y="189" font-size="5" fill="#333" stroke="#333" stroke-width="0.15" textLength="7.5" lengthAdjust="spacingAndGlyphs" >WT</text>
<rect x="257.2" y="185.3" width="3.8" height="3.8" fill="#5a3d8e" />
<text x="263.9" y="189" font-size="5" fill="#333" stroke="#333" stroke-width="0.15" textLength="12.2" lengthAdjust="spacingAndGlyphs" >Nix-/-</text>
<text x="362.9" y="116.8" font-size="11" fill="#111" stroke="#111" stroke-width="0.02" textLength="2.3" lengthAdjust="spacingAndGlyphs" >I</text>
<polyline points="380.3,191 381.3,184.4 383.2,186.3 386.3,185.5 388.7,180.1 390.6,174.7 392.5,168.5 393.3,165.3 394.2,167 395,171.5 396,179 397,185.5 398.5,189.5 401,191.5 405,192.4" fill="none" stroke="#e0409a" stroke-width="0.75" stroke-linejoin="round" />
<polyline points="380.3,188.5 380.9,186.7 382.4,185.9 384.8,186.7 386.7,185.2 387.9,182.4 389,177.8 390.2,171.6 391.5,165.5 392.6,160.5 393.5,158.3 394.3,165.2 395.3,172.5 396,180.1 396.8,187.9 399.5,191 402.6,192.1 406,192.5" fill="none" stroke="#111" stroke-width="0.75" stroke-linejoin="round" />
<polyline points="380.9,190.2 383.2,188.6 388.7,188.3 392.5,186.7 395.6,184 398,179.3 399.9,173.9 401,169 402.2,162.7 403.1,160.2 403.9,160 404.9,163.9 406.1,172.6 407.4,181.3 408.6,187.5 411.1,190.6 415,191.8 420,192.3" fill="none" stroke="#5a46b4" stroke-width="0.75" stroke-linejoin="round" />
<polyline points="386.3,190.6 388.7,188.6 394.9,188.6 397.2,186.3 400.3,183.2 402.4,178.2 404.2,172.3 405.3,169 406.8,165.2 408.4,160.8 409.9,163.9 411.7,172.6 413,183.8 414.8,189.4 418,191.2 424,192.2" fill="none" stroke="#f03a3a" stroke-width="0.75" stroke-linejoin="round" />
<polyline points="385.5,191 388.7,187.1 391.8,186.7 396.4,185.9 400.3,182.4 403.4,178.5 405.7,174.7 407.5,168 409,162 409.9,160.2 411,162.5 412.4,167.7 414.2,178.8 415.5,187.5 418.6,190.6 424,191.8 432,192.3" fill="none" stroke="#18c0e8" stroke-width="0.85" stroke-linejoin="round" stroke-dasharray="1.6 0.6"/>
<line x1="378.9" y1="154.3" x2="378.9" y2="192.7" stroke="#111" stroke-width="0.9" />
<line x1="378.9" y1="192.7" x2="440" y2="192.7" stroke="#111" stroke-width="0.9" />
<line x1="376.3" y1="156.9" x2="378.9" y2="156.9" stroke="#111" stroke-width="0.8" />
<text x="364.2" y="159.2" font-size="6.8" fill="#2a2a2a" stroke="#2a2a2a" stroke-width="0.1" textLength="9.6" lengthAdjust="spacingAndGlyphs">547</text>
<line x1="376.3" y1="165.8" x2="378.9" y2="165.8" stroke="#111" stroke-width="0.8" />
<text x="364.2" y="168.1" font-size="6.8" fill="#2a2a2a" stroke="#2a2a2a" stroke-width="0.1" textLength="9.6" lengthAdjust="spacingAndGlyphs">410</text>
<line x1="376.3" y1="174.8" x2="378.9" y2="174.8" stroke="#111" stroke-width="0.8" />
<text x="364.2" y="177.1" font-size="6.8" fill="#2a2a2a" stroke="#2a2a2a" stroke-width="0.1" textLength="9.6" lengthAdjust="spacingAndGlyphs">274</text>
<line x1="376.3" y1="183.7" x2="378.9" y2="183.7" stroke="#111" stroke-width="0.8" />
<text x="364.2" y="186" font-size="6.8" fill="#2a2a2a" stroke="#2a2a2a" stroke-width="0.1" textLength="9.6" lengthAdjust="spacingAndGlyphs">137</text>
<line x1="376.3" y1="192.7" x2="378.9" y2="192.7" stroke="#111" stroke-width="0.8" />
<text x="370.6" y="195" font-size="6.8" fill="#2a2a2a" stroke="#2a2a2a" stroke-width="0.1" textLength="3.2" lengthAdjust="spacingAndGlyphs">0</text>
<line x1="377.9" y1="192.7" x2="378.9" y2="192.7" stroke="#111" stroke-width="0.5" />
<line x1="377.9" y1="190.91" x2="378.9" y2="190.91" stroke="#111" stroke-width="0.5" />
<line x1="377.9" y1="189.12" x2="378.9" y2="189.12" stroke="#111" stroke-width="0.5" />
<line x1="377.9" y1="187.33" x2="378.9" y2="187.33" stroke="#111" stroke-width="0.5" />
<line x1="377.9" y1="185.54" x2="378.9" y2="185.54" stroke="#111" stroke-width="0.5" />
<line x1="377.9" y1="183.75" x2="378.9" y2="183.75" stroke="#111" stroke-width="0.5" />
<line x1="377.9" y1="181.96" x2="378.9" y2="181.96" stroke="#111" stroke-width="0.5" />
<line x1="377.9" y1="180.17" x2="378.9" y2="180.17" stroke="#111" stroke-width="0.5" />
<line x1="377.9" y1="178.38" x2="378.9" y2="178.38" stroke="#111" stroke-width="0.5" />
<line x1="377.9" y1="176.59" x2="378.9" y2="176.59" stroke="#111" stroke-width="0.5" />
<line x1="377.9" y1="174.8" x2="378.9" y2="174.8" stroke="#111" stroke-width="0.5" />
<line x1="377.9" y1="173.01" x2="378.9" y2="173.01" stroke="#111" stroke-width="0.5" />
<line x1="377.9" y1="171.22" x2="378.9" y2="171.22" stroke="#111" stroke-width="0.5" />
<line x1="377.9" y1="169.43" x2="378.9" y2="169.43" stroke="#111" stroke-width="0.5" />
<line x1="377.9" y1="167.64" x2="378.9" y2="167.64" stroke="#111" stroke-width="0.5" />
<line x1="377.9" y1="165.85" x2="378.9" y2="165.85" stroke="#111" stroke-width="0.5" />
<line x1="377.9" y1="164.06" x2="378.9" y2="164.06" stroke="#111" stroke-width="0.5" />
<line x1="377.9" y1="162.27" x2="378.9" y2="162.27" stroke="#111" stroke-width="0.5" />
<line x1="377.9" y1="160.48" x2="378.9" y2="160.48" stroke="#111" stroke-width="0.5" />
<line x1="377.9" y1="158.69" x2="378.9" y2="158.69" stroke="#111" stroke-width="0.5" />
<line x1="377.9" y1="156.9" x2="378.9" y2="156.9" stroke="#111" stroke-width="0.5" />
<line x1="377.9" y1="155.11" x2="378.9" y2="155.11" stroke="#111" stroke-width="0.5" />
<line x1="378.9" y1="192.7" x2="378.9" y2="194.5" stroke="#111" stroke-width="0.6" />
<line x1="383.3" y1="192.7" x2="383.3" y2="193.7" stroke="#111" stroke-width="0.5" />
<line x1="385.87" y1="192.7" x2="385.87" y2="193.7" stroke="#111" stroke-width="0.5" />
<line x1="387.69" y1="192.7" x2="387.69" y2="193.7" stroke="#111" stroke-width="0.5" />
<line x1="389.1" y1="192.7" x2="389.1" y2="193.7" stroke="#111" stroke-width="0.5" />
<line x1="390.26" y1="192.7" x2="390.26" y2="193.7" stroke="#111" stroke-width="0.5" />
<line x1="391.24" y1="192.7" x2="391.24" y2="193.7" stroke="#111" stroke-width="0.5" />
<line x1="392.09" y1="192.7" x2="392.09" y2="193.7" stroke="#111" stroke-width="0.5" />
<line x1="392.83" y1="192.7" x2="392.83" y2="193.7" stroke="#111" stroke-width="0.5" />
<line x1="393.5" y1="192.7" x2="393.5" y2="194.5" stroke="#111" stroke-width="0.6" />
<line x1="397.9" y1="192.7" x2="397.9" y2="193.7" stroke="#111" stroke-width="0.5" />
<line x1="400.47" y1="192.7" x2="400.47" y2="193.7" stroke="#111" stroke-width="0.5" />
<line x1="402.29" y1="192.7" x2="402.29" y2="193.7" stroke="#111" stroke-width="0.5" />
<line x1="403.7" y1="192.7" x2="403.7" y2="193.7" stroke="#111" stroke-width="0.5" />
<line x1="404.86" y1="192.7" x2="404.86" y2="193.7" stroke="#111" stroke-width="0.5" />
<line x1="405.84" y1="192.7" x2="405.84" y2="193.7" stroke="#111" stroke-width="0.5" />
<line x1="406.69" y1="192.7" x2="406.69" y2="193.7" stroke="#111" stroke-width="0.5" />
<line x1="407.43" y1="192.7" x2="407.43" y2="193.7" stroke="#111" stroke-width="0.5" />
<line x1="408.1" y1="192.7" x2="408.1" y2="194.5" stroke="#111" stroke-width="0.6" />
<line x1="412.5" y1="192.7" x2="412.5" y2="193.7" stroke="#111" stroke-width="0.5" />
<line x1="415.07" y1="192.7" x2="415.07" y2="193.7" stroke="#111" stroke-width="0.5" />
<line x1="416.89" y1="192.7" x2="416.89" y2="193.7" stroke="#111" stroke-width="0.5" />
<line x1="418.3" y1="192.7" x2="418.3" y2="193.7" stroke="#111" stroke-width="0.5" />
<line x1="419.46" y1="192.7" x2="419.46" y2="193.7" stroke="#111" stroke-width="0.5" />
<line x1="420.44" y1="192.7" x2="420.44" y2="193.7" stroke="#111" stroke-width="0.5" />
<line x1="421.29" y1="192.7" x2="421.29" y2="193.7" stroke="#111" stroke-width="0.5" />
<line x1="422.03" y1="192.7" x2="422.03" y2="193.7" stroke="#111" stroke-width="0.5" />
<line x1="422.7" y1="192.7" x2="422.7" y2="194.5" stroke="#111" stroke-width="0.6" />
<line x1="427.1" y1="192.7" x2="427.1" y2="193.7" stroke="#111" stroke-width="0.5" />
<line x1="429.67" y1="192.7" x2="429.67" y2="193.7" stroke="#111" stroke-width="0.5" />
<line x1="431.49" y1="192.7" x2="431.49" y2="193.7" stroke="#111" stroke-width="0.5" />
<line x1="432.9" y1="192.7" x2="432.9" y2="193.7" stroke="#111" stroke-width="0.5" />
<line x1="434.06" y1="192.7" x2="434.06" y2="193.7" stroke="#111" stroke-width="0.5" />
<line x1="435.04" y1="192.7" x2="435.04" y2="193.7" stroke="#111" stroke-width="0.5" />
<line x1="435.89" y1="192.7" x2="435.89" y2="193.7" stroke="#111" stroke-width="0.5" />
<line x1="436.63" y1="192.7" x2="436.63" y2="193.7" stroke="#111" stroke-width="0.5" />
<line x1="437.3" y1="192.7" x2="437.3" y2="194.5" stroke="#111" stroke-width="0.6" />
<text x="375.6" y="204.3" font-size="6.6" fill="#222" stroke="#222" stroke-width="0.12" textLength="5.9" lengthAdjust="spacingAndGlyphs" >10</text>
<text x="381.8" y="200.7" font-size="2.9" fill="#555">0</text>
<text x="390.2" y="204.3" font-size="6.6" fill="#222" stroke="#222" stroke-width="0.12" textLength="5.9" lengthAdjust="spacingAndGlyphs" >10</text>
<text x="396.4" y="200.7" font-size="2.9" fill="#555">1</text>
<text x="404.8" y="204.3" font-size="6.6" fill="#222" stroke="#222" stroke-width="0.12" textLength="5.9" lengthAdjust="spacingAndGlyphs" >10</text>
<text x="411" y="200.7" font-size="2.9" fill="#555">2</text>
<text x="419.4" y="204.3" font-size="6.6" fill="#222" stroke="#222" stroke-width="0.12" textLength="5.9" lengthAdjust="spacingAndGlyphs" >10</text>
<text x="425.6" y="200.7" font-size="2.9" fill="#555">3</text>
<text x="434" y="204.3" font-size="6.6" fill="#222" stroke="#222" stroke-width="0.12" textLength="5.9" lengthAdjust="spacingAndGlyphs" >10</text>
<text x="440.2" y="200.7" font-size="2.9" fill="#555">4</text>
<line x1="393.5" y1="158.3" x2="412.6" y2="158.3" stroke="#111" stroke-width="0.7" />
<text x="414" y="159.9" font-size="4.4" fill="#3a3a3a" stroke="#3a3a3a" stroke-width="0" textLength="28.8" lengthAdjust="spacingAndGlyphs" >Negative control</text>
<line x1="393.3" y1="165.7" x2="414.3" y2="165.7" stroke="#e0409a" stroke-width="0.7" />
<text x="415.5" y="167.3" font-size="4.4" fill="#dc92c0" stroke="#dc92c0" stroke-width="0" textLength="26.8" lengthAdjust="spacingAndGlyphs" >Resting control</text>
<line x1="412.6" y1="171.2" x2="415" y2="171.2" stroke="#18c0e8" stroke-width="0.7" />
<text x="416" y="172.8" font-size="4.4" fill="#86ccd6" stroke="#86ccd6" stroke-width="0" textLength="26.8" lengthAdjust="spacingAndGlyphs" >Positive control</text>
<line x1="411.2" y1="177.9" x2="419.8" y2="177.9" stroke="#f03a3a" stroke-width="0.7" />
<text x="421.9" y="179.5" font-size="4.4" fill="#f09486" stroke="#f09486" stroke-width="0" textLength="6" lengthAdjust="spacingAndGlyphs" >WT</text>
<line x1="407.3" y1="182.5" x2="419.8" y2="182.5" stroke="#5a46b4" stroke-width="0.7" />
<text x="421.9" y="184.1" font-size="4.4" fill="#8480c0" stroke="#8480c0" stroke-width="0" textLength="10" lengthAdjust="spacingAndGlyphs" >Nix-/-</text>
<text x="449.3" y="116.9" font-size="11" fill="#111" stroke="#111" stroke-width="0.02" textLength="4" lengthAdjust="spacingAndGlyphs" >J</text>
<text transform="translate(456.1,209) rotate(-90)" x="0" y="0" font-size="8.4" fill="#1e1e1e" stroke="#1e1e1e" stroke-width="0.15" textLength="71.9" lengthAdjust="spacingAndGlyphs">P-selectin expression</text>
<line x1="478.7" y1="153.6" x2="478.7" y2="192.9" stroke="#111" stroke-width="1" />
<line x1="475" y1="192.9" x2="513.3" y2="192.9" stroke="#111" stroke-width="1" />
<line x1="475.7" y1="156" x2="478.7" y2="156" stroke="#111" stroke-width="0.9" />
<text x="461.86" y="158.06" font-size="6" fill="#2a2a2a" stroke="#2a2a2a" stroke-width="0.1" textLength="9.54" lengthAdjust="spacingAndGlyphs">120</text>
<line x1="475.7" y1="168.3" x2="478.7" y2="168.3" stroke="#111" stroke-width="0.9" />
<text x="465.04" y="170.36" font-size="6" fill="#2a2a2a" stroke="#2a2a2a" stroke-width="0.1" textLength="6.36" lengthAdjust="spacingAndGlyphs">80</text>
<line x1="475.7" y1="180.6" x2="478.7" y2="180.6" stroke="#111" stroke-width="0.9" />
<text x="465.04" y="182.66" font-size="6" fill="#2a2a2a" stroke="#2a2a2a" stroke-width="0.1" textLength="6.36" lengthAdjust="spacingAndGlyphs">40</text>
<line x1="475.7" y1="192.9" x2="478.7" y2="192.9" stroke="#111" stroke-width="0.9" />
<text x="468.22" y="194.96" font-size="6" fill="#2a2a2a" stroke="#2a2a2a" stroke-width="0.1" textLength="3.18" lengthAdjust="spacingAndGlyphs">0</text>
<rect x="483.9" y="161.1" width="6.1" height="31.8" fill="#c9552f" />
<rect x="501.4" y="180" width="5.8" height="12.9" fill="#5a3d8e" />
<line x1="487" y1="158.6" x2="487" y2="162.9" stroke="#111" stroke-width="0.8" />
<line x1="485.8" y1="158.6" x2="488.2" y2="158.6" stroke="#111" stroke-width="0.8" />
<line x1="504.3" y1="178.2" x2="504.3" y2="181" stroke="#111" stroke-width="0.8" />
<line x1="503.1" y1="178.2" x2="505.5" y2="178.2" stroke="#111" stroke-width="0.8" />
<path d="M486.4,156.2 L486.4,155 L504.7,155 L504.7,156.2" fill="none" stroke="#222" stroke-width="0.8" />
<text x="495.8" y="154.3" font-size="4.5" fill="#222" stroke="#222" stroke-width="0.15" text-anchor="middle">**</text>
<text x="482.4" y="201.7" font-size="5.8" fill="#1e1e1e" stroke="#1e1e1e" stroke-width="0.15" textLength="8.3" lengthAdjust="spacingAndGlyphs" >WT</text>
<text x="497.1" y="201.7" font-size="5.8" fill="#1e1e1e" stroke="#1e1e1e" stroke-width="0.15" textLength="15" lengthAdjust="spacingAndGlyphs" >Nix-/-</text>
<text x="7.1" y="230.3" font-size="11" fill="#111" stroke="#111" stroke-width="0.02" textLength="6.5" lengthAdjust="spacingAndGlyphs" >K</text>
<polyline points="25,291.8 25.4,283.7 26.6,284.9 28.3,284.1 29.9,283.3 31.5,280.5 33.1,277.3 34.7,271.6 36.2,267 37,266.1 38.2,270.5 39.3,275.5 41.2,286.1 43.2,292.6 45.2,293.8 50,294.2" fill="none" stroke="#e0409a" stroke-width="0.75" stroke-linejoin="round" />
<polyline points="24.5,288.5 27,289.4 29.1,288.1 30.7,285.3 32.3,280.5 32.8,278.3 33.9,274 34.7,268.9 35.6,264 36.5,260.1 37.5,268 38.4,278.3 39.5,288.5 40.4,291.8 43,293.5 47,294.2" fill="none" stroke="#111" stroke-width="0.75" stroke-linejoin="round" />
<polyline points="27,290.2 29.1,289.4 32.3,287.7 35.5,285.3 37.9,282 41.2,277.3 42.6,273.5 44,270.3 45.5,266.5 46.8,263.8 48.2,270.3 50.1,280.1 51.5,287.5 53.5,291 57,292.8 62,293.8" fill="none" stroke="#5a46b4" stroke-width="0.75" stroke-linejoin="round" />
<polyline points="33.1,291 37.1,288.5 40.4,286.1 43.6,282.9 44.9,280.1 46.8,277.5 47.7,273.6 49.2,270 50.1,267.1 51.9,262.9 53.3,268.9 55.2,279.2 56.5,287 58.5,291 62,293 68,293.8" fill="none" stroke="#f03a3a" stroke-width="0.75" stroke-linejoin="round" />
<polyline points="32.3,291.8 34.7,290.2 38.7,287.7 42.8,284.5 46,280.5 48.7,275.5 50.4,270 51,266.1 52.9,259.6 54.4,265.2 56.1,274.5 57.5,282.9 59,289 61.5,292 66,293.5 74,294" fill="none" stroke="#18c0e8" stroke-width="0.85" stroke-linejoin="round" stroke-dasharray="1.6 0.6"/>
<line x1="23.7" y1="255.4" x2="23.7" y2="294.3" stroke="#111" stroke-width="0.9" />
<line x1="23.7" y1="294.3" x2="85.4" y2="294.3" stroke="#111" stroke-width="0.9" />
<line x1="21.1" y1="257.9" x2="23.7" y2="257.9" stroke="#111" stroke-width="0.8" />
<text x="8.4" y="260.2" font-size="6.8" fill="#2a2a2a" stroke="#2a2a2a" stroke-width="0.1" textLength="9.6" lengthAdjust="spacingAndGlyphs">343</text>
<line x1="21.1" y1="267" x2="23.7" y2="267" stroke="#111" stroke-width="0.8" />
<text x="8.4" y="269.3" font-size="6.8" fill="#2a2a2a" stroke="#2a2a2a" stroke-width="0.1" textLength="9.6" lengthAdjust="spacingAndGlyphs">257</text>
<line x1="21.1" y1="276.2" x2="23.7" y2="276.2" stroke="#111" stroke-width="0.8" />
<text x="8.4" y="278.5" font-size="6.8" fill="#2a2a2a" stroke="#2a2a2a" stroke-width="0.1" textLength="9.6" lengthAdjust="spacingAndGlyphs">172</text>
<line x1="21.1" y1="285.3" x2="23.7" y2="285.3" stroke="#111" stroke-width="0.8" />
<text x="11.6" y="287.6" font-size="6.8" fill="#2a2a2a" stroke="#2a2a2a" stroke-width="0.1" textLength="6.4" lengthAdjust="spacingAndGlyphs">86</text>
<line x1="21.1" y1="294.3" x2="23.7" y2="294.3" stroke="#111" stroke-width="0.8" />
<text x="14.8" y="296.6" font-size="6.8" fill="#2a2a2a" stroke="#2a2a2a" stroke-width="0.1" textLength="3.2" lengthAdjust="spacingAndGlyphs">0</text>
<line x1="22.7" y1="294.3" x2="23.7" y2="294.3" stroke="#111" stroke-width="0.5" />
<line x1="22.7" y1="292.48" x2="23.7" y2="292.48" stroke="#111" stroke-width="0.5" />
<line x1="22.7" y1="290.66" x2="23.7" y2="290.66" stroke="#111" stroke-width="0.5" />
<line x1="22.7" y1="288.84" x2="23.7" y2="288.84" stroke="#111" stroke-width="0.5" />
<line x1="22.7" y1="287.02" x2="23.7" y2="287.02" stroke="#111" stroke-width="0.5" />
<line x1="22.7" y1="285.2" x2="23.7" y2="285.2" stroke="#111" stroke-width="0.5" />
<line x1="22.7" y1="283.38" x2="23.7" y2="283.38" stroke="#111" stroke-width="0.5" />
<line x1="22.7" y1="281.56" x2="23.7" y2="281.56" stroke="#111" stroke-width="0.5" />
<line x1="22.7" y1="279.74" x2="23.7" y2="279.74" stroke="#111" stroke-width="0.5" />
<line x1="22.7" y1="277.92" x2="23.7" y2="277.92" stroke="#111" stroke-width="0.5" />
<line x1="22.7" y1="276.1" x2="23.7" y2="276.1" stroke="#111" stroke-width="0.5" />
<line x1="22.7" y1="274.28" x2="23.7" y2="274.28" stroke="#111" stroke-width="0.5" />
<line x1="22.7" y1="272.46" x2="23.7" y2="272.46" stroke="#111" stroke-width="0.5" />
<line x1="22.7" y1="270.64" x2="23.7" y2="270.64" stroke="#111" stroke-width="0.5" />
<line x1="22.7" y1="268.82" x2="23.7" y2="268.82" stroke="#111" stroke-width="0.5" />
<line x1="22.7" y1="267" x2="23.7" y2="267" stroke="#111" stroke-width="0.5" />
<line x1="22.7" y1="265.18" x2="23.7" y2="265.18" stroke="#111" stroke-width="0.5" />
<line x1="22.7" y1="263.36" x2="23.7" y2="263.36" stroke="#111" stroke-width="0.5" />
<line x1="22.7" y1="261.54" x2="23.7" y2="261.54" stroke="#111" stroke-width="0.5" />
<line x1="22.7" y1="259.72" x2="23.7" y2="259.72" stroke="#111" stroke-width="0.5" />
<line x1="22.7" y1="257.9" x2="23.7" y2="257.9" stroke="#111" stroke-width="0.5" />
<line x1="22.7" y1="256.08" x2="23.7" y2="256.08" stroke="#111" stroke-width="0.5" />
<line x1="23.7" y1="294.3" x2="23.7" y2="296.1" stroke="#111" stroke-width="0.6" />
<line x1="28.11" y1="294.3" x2="28.11" y2="295.3" stroke="#111" stroke-width="0.5" />
<line x1="30.69" y1="294.3" x2="30.69" y2="295.3" stroke="#111" stroke-width="0.5" />
<line x1="32.52" y1="294.3" x2="32.52" y2="295.3" stroke="#111" stroke-width="0.5" />
<line x1="33.94" y1="294.3" x2="33.94" y2="295.3" stroke="#111" stroke-width="0.5" />
<line x1="35.1" y1="294.3" x2="35.1" y2="295.3" stroke="#111" stroke-width="0.5" />
<line x1="36.08" y1="294.3" x2="36.08" y2="295.3" stroke="#111" stroke-width="0.5" />
<line x1="36.93" y1="294.3" x2="36.93" y2="295.3" stroke="#111" stroke-width="0.5" />
<line x1="37.68" y1="294.3" x2="37.68" y2="295.3" stroke="#111" stroke-width="0.5" />
<line x1="38.35" y1="294.3" x2="38.35" y2="296.1" stroke="#111" stroke-width="0.6" />
<line x1="42.76" y1="294.3" x2="42.76" y2="295.3" stroke="#111" stroke-width="0.5" />
<line x1="45.34" y1="294.3" x2="45.34" y2="295.3" stroke="#111" stroke-width="0.5" />
<line x1="47.17" y1="294.3" x2="47.17" y2="295.3" stroke="#111" stroke-width="0.5" />
<line x1="48.59" y1="294.3" x2="48.59" y2="295.3" stroke="#111" stroke-width="0.5" />
<line x1="49.75" y1="294.3" x2="49.75" y2="295.3" stroke="#111" stroke-width="0.5" />
<line x1="50.73" y1="294.3" x2="50.73" y2="295.3" stroke="#111" stroke-width="0.5" />
<line x1="51.58" y1="294.3" x2="51.58" y2="295.3" stroke="#111" stroke-width="0.5" />
<line x1="52.33" y1="294.3" x2="52.33" y2="295.3" stroke="#111" stroke-width="0.5" />
<line x1="53" y1="294.3" x2="53" y2="296.1" stroke="#111" stroke-width="0.6" />
<line x1="57.41" y1="294.3" x2="57.41" y2="295.3" stroke="#111" stroke-width="0.5" />
<line x1="59.99" y1="294.3" x2="59.99" y2="295.3" stroke="#111" stroke-width="0.5" />
<line x1="61.82" y1="294.3" x2="61.82" y2="295.3" stroke="#111" stroke-width="0.5" />
<line x1="63.24" y1="294.3" x2="63.24" y2="295.3" stroke="#111" stroke-width="0.5" />
<line x1="64.4" y1="294.3" x2="64.4" y2="295.3" stroke="#111" stroke-width="0.5" />
<line x1="65.38" y1="294.3" x2="65.38" y2="295.3" stroke="#111" stroke-width="0.5" />
<line x1="66.23" y1="294.3" x2="66.23" y2="295.3" stroke="#111" stroke-width="0.5" />
<line x1="66.98" y1="294.3" x2="66.98" y2="295.3" stroke="#111" stroke-width="0.5" />
<line x1="67.65" y1="294.3" x2="67.65" y2="296.1" stroke="#111" stroke-width="0.6" />
<line x1="72.06" y1="294.3" x2="72.06" y2="295.3" stroke="#111" stroke-width="0.5" />
<line x1="74.64" y1="294.3" x2="74.64" y2="295.3" stroke="#111" stroke-width="0.5" />
<line x1="76.47" y1="294.3" x2="76.47" y2="295.3" stroke="#111" stroke-width="0.5" />
<line x1="77.89" y1="294.3" x2="77.89" y2="295.3" stroke="#111" stroke-width="0.5" />
<line x1="79.05" y1="294.3" x2="79.05" y2="295.3" stroke="#111" stroke-width="0.5" />
<line x1="80.03" y1="294.3" x2="80.03" y2="295.3" stroke="#111" stroke-width="0.5" />
<line x1="80.88" y1="294.3" x2="80.88" y2="295.3" stroke="#111" stroke-width="0.5" />
<line x1="81.63" y1="294.3" x2="81.63" y2="295.3" stroke="#111" stroke-width="0.5" />
<line x1="82.3" y1="294.3" x2="82.3" y2="296.1" stroke="#111" stroke-width="0.6" />
<text x="20.4" y="306" font-size="6.6" fill="#222" stroke="#222" stroke-width="0.12" textLength="5.9" lengthAdjust="spacingAndGlyphs" >10</text>
<text x="26.6" y="302.4" font-size="2.9" fill="#555">0</text>
<text x="35.05" y="306" font-size="6.6" fill="#222" stroke="#222" stroke-width="0.12" textLength="5.9" lengthAdjust="spacingAndGlyphs" >10</text>
<text x="41.25" y="302.4" font-size="2.9" fill="#555">1</text>
<text x="49.7" y="306" font-size="6.6" fill="#222" stroke="#222" stroke-width="0.12" textLength="5.9" lengthAdjust="spacingAndGlyphs" >10</text>
<text x="55.9" y="302.4" font-size="2.9" fill="#555">2</text>
<text x="64.35" y="306" font-size="6.6" fill="#222" stroke="#222" stroke-width="0.12" textLength="5.9" lengthAdjust="spacingAndGlyphs" >10</text>
<text x="70.55" y="302.4" font-size="2.9" fill="#555">3</text>
<text x="79" y="306" font-size="6.6" fill="#222" stroke="#222" stroke-width="0.12" textLength="5.9" lengthAdjust="spacingAndGlyphs" >10</text>
<text x="85.2" y="302.4" font-size="2.9" fill="#555">4</text>
<line x1="36.5" y1="260.2" x2="57.6" y2="260.2" stroke="#111" stroke-width="0.7" />
<text x="59.3" y="261.8" font-size="4.4" fill="#3a3a3a" stroke="#3a3a3a" stroke-width="0" textLength="28.6" lengthAdjust="spacingAndGlyphs" >Negative control</text>
<line x1="38.3" y1="269.4" x2="58.5" y2="269.4" stroke="#e0409a" stroke-width="0.7" />
<text x="60.7" y="271" font-size="4.4" fill="#dc92c0" stroke="#dc92c0" stroke-width="0" textLength="26.2" lengthAdjust="spacingAndGlyphs" >Resting control</text>
<line x1="56.2" y1="274.7" x2="59.4" y2="274.7" stroke="#18c0e8" stroke-width="0.7" />
<text x="61.1" y="276.3" font-size="4.4" fill="#86ccd6" stroke="#86ccd6" stroke-width="0" textLength="26.8" lengthAdjust="spacingAndGlyphs" >Positive control</text>
<line x1="54.6" y1="279.2" x2="64.6" y2="279.2" stroke="#f03a3a" stroke-width="0.7" />
<text x="66.9" y="280.8" font-size="4.4" fill="#f09486" stroke="#f09486" stroke-width="0" textLength="6" lengthAdjust="spacingAndGlyphs" >WT</text>
<line x1="50.2" y1="284.1" x2="64.6" y2="284.1" stroke="#5a46b4" stroke-width="0.7" />
<text x="66.9" y="285.7" font-size="4.4" fill="#8480c0" stroke="#8480c0" stroke-width="0" textLength="9.5" lengthAdjust="spacingAndGlyphs" >Nix-/-</text>
<text x="103.6" y="230.6" font-size="11" fill="#111" stroke="#111" stroke-width="0.02" textLength="4.8" lengthAdjust="spacingAndGlyphs" >L</text>
<text transform="translate(110,281) rotate(-90)" x="0" y="0" font-size="8.3" fill="#1e1e1e" stroke="#1e1e1e" stroke-width="0.15" textLength="12.6" lengthAdjust="spacingAndGlyphs">MFI</text>
<line x1="132.2" y1="255.7" x2="132.2" y2="294.3" stroke="#111" stroke-width="1" />
<line x1="129.3" y1="294.3" x2="167.1" y2="294.3" stroke="#111" stroke-width="1" />
<line x1="129.2" y1="258.6" x2="132.2" y2="258.6" stroke="#111" stroke-width="0.9" />
<text x="117.36" y="260.66" font-size="6" fill="#2a2a2a" stroke="#2a2a2a" stroke-width="0.1" textLength="9.54" lengthAdjust="spacingAndGlyphs">150</text>
<line x1="129.2" y1="270.5" x2="132.2" y2="270.5" stroke="#111" stroke-width="0.9" />
<text x="117.36" y="272.56" font-size="6" fill="#2a2a2a" stroke="#2a2a2a" stroke-width="0.1" textLength="9.54" lengthAdjust="spacingAndGlyphs">100</text>
<line x1="129.2" y1="282.4" x2="132.2" y2="282.4" stroke="#111" stroke-width="0.9" />
<text x="120.54" y="284.46" font-size="6" fill="#2a2a2a" stroke="#2a2a2a" stroke-width="0.1" textLength="6.36" lengthAdjust="spacingAndGlyphs">50</text>
<line x1="129.2" y1="294.3" x2="132.2" y2="294.3" stroke="#111" stroke-width="0.9" />
<text x="123.72" y="296.36" font-size="6" fill="#2a2a2a" stroke="#2a2a2a" stroke-width="0.1" textLength="3.18" lengthAdjust="spacingAndGlyphs">0</text>
<rect x="137.9" y="271.1" width="6.1" height="23.2" fill="#c9552f" />
<rect x="155.7" y="282.9" width="5.8" height="11.4" fill="#5a3d8e" />
<line x1="140.9" y1="269.8" x2="140.9" y2="272.4" stroke="#111" stroke-width="0.8" />
<line x1="139.7" y1="269.8" x2="142.1" y2="269.8" stroke="#111" stroke-width="0.8" />
<line x1="158.6" y1="282" x2="158.6" y2="283.6" stroke="#111" stroke-width="0.8" />
<line x1="157.4" y1="282" x2="159.8" y2="282" stroke="#111" stroke-width="0.8" />
<path d="M140.3,257.9 L140.3,256.7 L158.9,256.7 L158.9,257.9" fill="none" stroke="#222" stroke-width="0.8" />
<text x="149.8" y="256" font-size="4.5" fill="#222" stroke="#222" stroke-width="0.15" text-anchor="middle">**</text>
<text x="136.9" y="303.2" font-size="5.6" fill="#1e1e1e" stroke="#1e1e1e" stroke-width="0.15" textLength="8.1" lengthAdjust="spacingAndGlyphs" >WT</text>
<text x="151.1" y="303.2" font-size="5.6" fill="#1e1e1e" stroke="#1e1e1e" stroke-width="0.15" textLength="14.9" lengthAdjust="spacingAndGlyphs" >Nix-/-</text>
<text x="182.1" y="229.9" font-size="11" fill="#111" stroke="#111" stroke-width="0.02" textLength="8.5" lengthAdjust="spacingAndGlyphs" >M</text>
<text transform="translate(188.9,307) rotate(-90)" x="0" y="0" font-size="8.3" fill="#1e1e1e" stroke="#1e1e1e" stroke-width="0.15" textLength="78.5" lengthAdjust="spacingAndGlyphs">Tail bleeding time (min)</text>
<line x1="207.5" y1="238.2" x2="207.5" y2="294.3" stroke="#111" stroke-width="1" />
<line x1="207.5" y1="294.3" x2="262.1" y2="294.3" stroke="#111" stroke-width="1" />
<line x1="221.4" y1="294.3" x2="221.4" y2="297.4" stroke="#111" stroke-width="0.7" />
<line x1="248.6" y1="294.3" x2="248.6" y2="297.4" stroke="#111" stroke-width="0.7" />
<line x1="204.5" y1="240.7" x2="207.5" y2="240.7" stroke="#111" stroke-width="0.9" />
<text x="194.44" y="242.76" font-size="6" fill="#2a2a2a" stroke="#2a2a2a" stroke-width="0.1" textLength="6.36" lengthAdjust="spacingAndGlyphs">20</text>
<line x1="204.5" y1="254.3" x2="207.5" y2="254.3" stroke="#111" stroke-width="0.9" />
<text x="194.44" y="256.36" font-size="6" fill="#2a2a2a" stroke="#2a2a2a" stroke-width="0.1" textLength="6.36" lengthAdjust="spacingAndGlyphs">15</text>
<line x1="204.5" y1="267.9" x2="207.5" y2="267.9" stroke="#111" stroke-width="0.9" />
<text x="194.44" y="269.96" font-size="6" fill="#2a2a2a" stroke="#2a2a2a" stroke-width="0.1" textLength="6.36" lengthAdjust="spacingAndGlyphs">10</text>
<line x1="204.5" y1="281.4" x2="207.5" y2="281.4" stroke="#111" stroke-width="0.9" />
<text x="197.62" y="283.46" font-size="6" fill="#2a2a2a" stroke="#2a2a2a" stroke-width="0.1" textLength="3.18" lengthAdjust="spacingAndGlyphs">5</text>
<line x1="204.5" y1="294.3" x2="207.5" y2="294.3" stroke="#111" stroke-width="0.9" />
<text x="197.62" y="296.36" font-size="6" fill="#2a2a2a" stroke="#2a2a2a" stroke-width="0.1" textLength="3.18" lengthAdjust="spacingAndGlyphs">0</text>
<path d="M221.1,242.9 L221.1,242.1 L249.3,242.1 L249.3,242.9" fill="none" stroke="#222" stroke-width="0.8" />
<text x="235.2" y="241.6" font-size="4" fill="#333" stroke="#333" stroke-width="0.15" text-anchor="middle">*</text>
<line x1="214.3" y1="278.3" x2="228.5" y2="278.3" stroke="#222" stroke-width="0.7" />
<line x1="214.3" y1="283.6" x2="228.5" y2="283.6" stroke="#222" stroke-width="0.7" />
<line x1="221.4" y1="278.3" x2="221.4" y2="283.6" stroke="#222" stroke-width="0.7" />
<line x1="242.1" y1="268.3" x2="255.7" y2="268.3" stroke="#9a9a9a" stroke-width="0.7" />
<line x1="242.1" y1="273.1" x2="255.7" y2="273.1" stroke="#9a9a9a" stroke-width="0.7" />
<line x1="248.9" y1="268.3" x2="248.9" y2="273.1" stroke="#9a9a9a" stroke-width="0.7" />
<circle cx="221.4" cy="254.3" r="1.15" fill="#d04a22"/>
<circle cx="224.6" cy="277.9" r="1.15" fill="#d04a22"/>
<circle cx="215" cy="282.6" r="1.15" fill="#d04a22"/>
<circle cx="218.6" cy="282.9" r="1.15" fill="#d04a22"/>
<circle cx="221.4" cy="282" r="1.15" fill="#d04a22"/>
<circle cx="226.4" cy="282.1" r="1.15" fill="#d04a22"/>
<circle cx="219.3" cy="285.4" r="1.15" fill="#d04a22"/>
<circle cx="227.9" cy="284.6" r="1.15" fill="#d04a22"/>
<circle cx="218.6" cy="286.9" r="1.15" fill="#d04a22"/>
<circle cx="225" cy="286.9" r="1.15" fill="#d04a22"/>
<circle cx="221.8" cy="288" r="1.15" fill="#d04a22"/>
<circle cx="222.1" cy="280.7" r="1.15" fill="#d04a22"/>
<rect x="244.25" y="252.85" width="2.3" height="2.3" fill="#3c2a86" />
<rect x="247.75" y="254.55" width="2.3" height="2.3" fill="#3c2a86" />
<rect x="250.95" y="253.15" width="2.3" height="2.3" fill="#3c2a86" />
<rect x="244.55" y="257.15" width="2.3" height="2.3" fill="#3c2a86" />
<rect x="248.15" y="258.85" width="2.3" height="2.3" fill="#3c2a86" />
<rect x="247.75" y="262.45" width="2.3" height="2.3" fill="#3c2a86" />
<rect x="244.55" y="265.65" width="2.3" height="2.3" fill="#3c2a86" />
<rect x="248.15" y="266.75" width="2.3" height="2.3" fill="#3c2a86" />
<rect x="240.95" y="271.45" width="2.3" height="2.3" fill="#3c2a86" />
<rect x="244.85" y="272.45" width="2.3" height="2.3" fill="#3c2a86" />
<rect x="248.15" y="271.75" width="2.3" height="2.3" fill="#3c2a86" />
<rect x="251.45" y="270.25" width="2.3" height="2.3" fill="#3c2a86" />
<rect x="244.25" y="276.25" width="2.3" height="2.3" fill="#3c2a86" />
<rect x="247.75" y="275.95" width="2.3" height="2.3" fill="#3c2a86" />
<rect x="253.85" y="275.75" width="2.3" height="2.3" fill="#3c2a86" />
<rect x="244.25" y="280.55" width="2.3" height="2.3" fill="#3c2a86" />
<rect x="247.75" y="282.45" width="2.3" height="2.3" fill="#3c2a86" />
<rect x="250.95" y="284.25" width="2.3" height="2.3" fill="#3c2a86" />
<rect x="248.15" y="285.75" width="2.3" height="2.3" fill="#3c2a86" />
<rect x="242.35" y="268.45" width="2.3" height="2.3" fill="#3c2a86" />
<rect x="250.65" y="267.65" width="2.3" height="2.3" fill="#3c2a86" />
<rect x="246.05" y="269.45" width="2.3" height="2.3" fill="#3c2a86" />
<line x1="210" y1="281.1" x2="232.8" y2="281.1" stroke="#111" stroke-width="1.1" />
<line x1="237.9" y1="270.7" x2="259.9" y2="270.7" stroke="#111" stroke-width="1.1" />
<text x="217.1" y="306" font-size="5.6" fill="#1e1e1e" stroke="#1e1e1e" stroke-width="0.15" textLength="8.6" lengthAdjust="spacingAndGlyphs" >WT</text>
<text x="215" y="313.4" font-size="5.6" fill="#1e1e1e" stroke="#1e1e1e" stroke-width="0.15" textLength="13.1" lengthAdjust="spacingAndGlyphs" >n=12</text>
<text x="241.9" y="306" font-size="5.6" fill="#1e1e1e" stroke="#1e1e1e" stroke-width="0.15" textLength="14.5" lengthAdjust="spacingAndGlyphs" >Nix-/-</text>
<text x="242.1" y="313.4" font-size="5.6" fill="#1e1e1e" stroke="#1e1e1e" stroke-width="0.15" textLength="13.6" lengthAdjust="spacingAndGlyphs" >n=22</text>
<text x="277.9" y="230" font-size="11" fill="#111" stroke="#111" stroke-width="0.02" textLength="5.7" lengthAdjust="spacingAndGlyphs" >N</text>
<text transform="translate(284.1,301.8) rotate(-90)" x="0" y="0" font-size="8.9" fill="#1e1e1e" stroke="#1e1e1e" stroke-width="0.15" textLength="68.9" lengthAdjust="spacingAndGlyphs">Blood flow (ml/min)</text>
<path d="M304.6,244 C304.92,243.93 305.85,243.63 306.5,243.6 C307.15,243.57 307.83,243.83 308.5,243.8 C309.17,243.77 309.75,243.5 310.5,243.4 C311.25,243.3 312.25,243.23 313,243.2 C313.75,243.17 314.33,243.08 315,243.2 C315.67,243.32 316.42,243.6 317,243.9 C317.58,244.2 318,244.52 318.5,245 C319,245.48 319.5,246.12 320,246.8 C320.5,247.48 321,248.15 321.5,249.1 C322,250.05 322.5,251.35 323,252.5 C323.5,253.65 324,255.02 324.5,256 C325,256.98 325.5,257.88 326,258.4 C326.5,258.92 326.33,259 327.5,259.1 C328.67,259.2 331.25,259.05 333,259 C334.75,258.95 336,258.82 338,258.8 C340,258.78 343.83,258.88 345,258.9" fill="none" stroke="#9a9a9a" stroke-width="0.7" />
<line x1="303.9" y1="237.9" x2="303.9" y2="259.7" stroke="#111" stroke-width="1.1" />
<line x1="303.9" y1="259.7" x2="345.2" y2="259.7" stroke="#111" stroke-width="1.1" />
<line x1="308.68" y1="259.7" x2="308.68" y2="261.7" stroke="#111" stroke-width="0.8" />
<line x1="313.46" y1="259.7" x2="313.46" y2="261.7" stroke="#111" stroke-width="0.8" />
<line x1="318.24" y1="259.7" x2="318.24" y2="261.7" stroke="#111" stroke-width="0.8" />
<line x1="323.02" y1="259.7" x2="323.02" y2="261.7" stroke="#111" stroke-width="0.8" />
<line x1="327.8" y1="259.7" x2="327.8" y2="261.7" stroke="#111" stroke-width="0.8" />
<line x1="332.58" y1="259.7" x2="332.58" y2="261.7" stroke="#111" stroke-width="0.8" />
<line x1="337.36" y1="259.7" x2="337.36" y2="261.7" stroke="#111" stroke-width="0.8" />
<line x1="342.14" y1="259.7" x2="342.14" y2="261.7" stroke="#111" stroke-width="0.8" />
<line x1="301" y1="240.3" x2="303.9" y2="240.3" stroke="#111" stroke-width="0.9" />
<text x="295" y="242.3" font-size="5.9" fill="#2a2a2a" stroke="#2a2a2a" stroke-width="0.08" textLength="3.1" lengthAdjust="spacingAndGlyphs">1</text>
<line x1="301" y1="250" x2="303.9" y2="250" stroke="#111" stroke-width="0.9" />
<text x="290" y="252" font-size="5.9" fill="#2a2a2a" stroke="#2a2a2a" stroke-width="0.08" textLength="8.1" lengthAdjust="spacingAndGlyphs">0.5</text>
<line x1="301" y1="259.7" x2="303.9" y2="259.7" stroke="#111" stroke-width="0.9" />
<text x="295" y="261.7" font-size="5.9" fill="#2a2a2a" stroke="#2a2a2a" stroke-width="0.08" textLength="3.1" lengthAdjust="spacingAndGlyphs">0</text>
<text x="316.1" y="241.7" font-size="4.9" fill="#333" stroke="#333" stroke-width="0.08" textLength="6.8" lengthAdjust="spacingAndGlyphs" >WT</text>
<path d="M304.8,279.4 C305.33,279.42 306.8,279.52 308,279.5 C309.2,279.48 310.67,279.32 312,279.3 C313.33,279.28 314.78,279.37 316,279.4 C317.22,279.43 318.33,279.3 319.3,279.5 C320.27,279.7 321.08,280.15 321.8,280.6 C322.52,281.05 322.98,281.5 323.6,282.2 C324.22,282.9 324.92,283.88 325.5,284.8 C326.08,285.72 326.57,286.78 327.1,287.7 C327.63,288.62 328.22,289.55 328.7,290.3 C329.18,291.05 329.53,291.62 330,292.2 C330.47,292.78 330.83,293.47 331.5,293.8 C332.17,294.13 332.58,294.13 334,294.2 C335.42,294.27 338.17,294.2 340,294.2 C341.83,294.2 344.17,294.2 345,294.2" fill="none" stroke="#9a9a9a" stroke-width="0.7" />
<line x1="303.9" y1="272.3" x2="303.9" y2="294.6" stroke="#111" stroke-width="1.1" />
<line x1="303.9" y1="294.6" x2="345.2" y2="294.6" stroke="#111" stroke-width="1.1" />
<line x1="308.68" y1="294.6" x2="308.68" y2="296.6" stroke="#111" stroke-width="0.8" />
<line x1="313.46" y1="294.6" x2="313.46" y2="296.6" stroke="#111" stroke-width="0.8" />
<line x1="318.24" y1="294.6" x2="318.24" y2="296.6" stroke="#111" stroke-width="0.8" />
<line x1="323.02" y1="294.6" x2="323.02" y2="296.6" stroke="#111" stroke-width="0.8" />
<line x1="327.8" y1="294.6" x2="327.8" y2="296.6" stroke="#111" stroke-width="0.8" />
<line x1="332.58" y1="294.6" x2="332.58" y2="296.6" stroke="#111" stroke-width="0.8" />
<line x1="337.36" y1="294.6" x2="337.36" y2="296.6" stroke="#111" stroke-width="0.8" />
<line x1="342.14" y1="294.6" x2="342.14" y2="296.6" stroke="#111" stroke-width="0.8" />
<line x1="301" y1="275.6" x2="303.9" y2="275.6" stroke="#111" stroke-width="0.9" />
<text x="295" y="277.6" font-size="5.9" fill="#2a2a2a" stroke="#2a2a2a" stroke-width="0.08" textLength="3.1" lengthAdjust="spacingAndGlyphs">1</text>
<line x1="301" y1="284.9" x2="303.9" y2="284.9" stroke="#111" stroke-width="0.9" />
<text x="290" y="286.9" font-size="5.9" fill="#2a2a2a" stroke="#2a2a2a" stroke-width="0.08" textLength="8.1" lengthAdjust="spacingAndGlyphs">0.5</text>
<line x1="301" y1="294.6" x2="303.9" y2="294.6" stroke="#111" stroke-width="0.9" />
<text x="295" y="296.6" font-size="5.9" fill="#2a2a2a" stroke="#2a2a2a" stroke-width="0.08" textLength="3.1" lengthAdjust="spacingAndGlyphs">0</text>
<text x="315.8" y="276.7" font-size="4.9" fill="#333" stroke="#333" stroke-width="0.08" textLength="12.9" lengthAdjust="spacingAndGlyphs" >Nix-/-</text>
<text x="312.05" y="306.3" font-size="5.6" fill="#2a2a2a" stroke="#2a2a2a" stroke-width="0.15" textLength="3.1" lengthAdjust="spacingAndGlyphs">2</text>
<text x="321.75" y="306.3" font-size="5.6" fill="#2a2a2a" stroke="#2a2a2a" stroke-width="0.15" textLength="3.1" lengthAdjust="spacingAndGlyphs">4</text>
<text x="331.35" y="306.3" font-size="5.6" fill="#2a2a2a" stroke="#2a2a2a" stroke-width="0.15" textLength="3.1" lengthAdjust="spacingAndGlyphs">6</text>
<text x="340.65" y="306.3" font-size="5.6" fill="#2a2a2a" stroke="#2a2a2a" stroke-width="0.15" textLength="3.1" lengthAdjust="spacingAndGlyphs">8</text>
<text x="360.7" y="230.4" font-size="11" fill="#111" stroke="#111" stroke-width="0.02" textLength="7.7" lengthAdjust="spacingAndGlyphs" >O</text>
<text transform="translate(367,302.2) rotate(-90)" x="0" y="0" font-size="8.6" fill="#1e1e1e" stroke="#1e1e1e" stroke-width="0.15" textLength="71.5" lengthAdjust="spacingAndGlyphs">Occlusion time (min)</text>
<line x1="385.5" y1="238.4" x2="385.5" y2="294.3" stroke="#111" stroke-width="1" />
<line x1="385.5" y1="294.3" x2="442.9" y2="294.3" stroke="#111" stroke-width="1" />
<line x1="400" y1="294.3" x2="400" y2="297.4" stroke="#111" stroke-width="0.7" />
<line x1="427.1" y1="294.3" x2="427.1" y2="297.4" stroke="#111" stroke-width="0.7" />
<line x1="382.5" y1="241.1" x2="385.5" y2="241.1" stroke="#111" stroke-width="0.9" />
<text x="373.04" y="243.16" font-size="6" fill="#2a2a2a" stroke="#2a2a2a" stroke-width="0.1" textLength="6.36" lengthAdjust="spacingAndGlyphs">15</text>
<line x1="382.5" y1="258.9" x2="385.5" y2="258.9" stroke="#111" stroke-width="0.9" />
<text x="373.04" y="260.96" font-size="6" fill="#2a2a2a" stroke="#2a2a2a" stroke-width="0.1" textLength="6.36" lengthAdjust="spacingAndGlyphs">10</text>
<line x1="382.5" y1="276.4" x2="385.5" y2="276.4" stroke="#111" stroke-width="0.9" />
<text x="376.22" y="278.46" font-size="6" fill="#2a2a2a" stroke="#2a2a2a" stroke-width="0.1" textLength="3.18" lengthAdjust="spacingAndGlyphs">5</text>
<line x1="382.5" y1="294.3" x2="385.5" y2="294.3" stroke="#111" stroke-width="0.9" />
<text x="376.22" y="296.36" font-size="6" fill="#2a2a2a" stroke="#2a2a2a" stroke-width="0.1" textLength="3.18" lengthAdjust="spacingAndGlyphs">0</text>
<path d="M399.7,242.9 L399.7,242.1 L427.6,242.1 L427.6,242.9" fill="none" stroke="#222" stroke-width="0.8" />
<text x="413.65" y="241.6" font-size="4" fill="#333" stroke="#333" stroke-width="0.15" text-anchor="middle">*</text>
<line x1="394.3" y1="275.2" x2="406.3" y2="275.2" stroke="#222" stroke-width="0.7" />
<line x1="394.3" y1="276.8" x2="406.3" y2="276.8" stroke="#222" stroke-width="0.7" />
<line x1="400.3" y1="275.2" x2="400.3" y2="276.8" stroke="#222" stroke-width="0.7" />
<line x1="420.7" y1="266.4" x2="433.9" y2="266.4" stroke="#333" stroke-width="0.7" />
<line x1="420.7" y1="270.6" x2="433.9" y2="270.6" stroke="#333" stroke-width="0.7" />
<line x1="427.3" y1="266.4" x2="427.3" y2="270.6" stroke="#333" stroke-width="0.7" />
<circle cx="403.6" cy="269.7" r="1.15" fill="#d04a22"/>
<circle cx="400" cy="272.6" r="1.15" fill="#d04a22"/>
<circle cx="403.1" cy="274" r="1.15" fill="#d04a22"/>
<circle cx="397.1" cy="275.4" r="1.15" fill="#d04a22"/>
<circle cx="400.7" cy="275.4" r="1.15" fill="#d04a22"/>
<circle cx="405.7" cy="275.4" r="1.15" fill="#d04a22"/>
<circle cx="396.9" cy="277.9" r="1.15" fill="#d04a22"/>
<circle cx="406.9" cy="277.9" r="1.15" fill="#d04a22"/>
<circle cx="400" cy="281.1" r="1.15" fill="#d04a22"/>
<rect x="425.95" y="250.95" width="2.3" height="2.3" fill="#3c2a86" />
<rect x="423.15" y="263.85" width="2.3" height="2.3" fill="#3c2a86" />
<rect x="429.55" y="261.45" width="2.3" height="2.3" fill="#3c2a86" />
<rect x="425.95" y="262.85" width="2.3" height="2.3" fill="#3c2a86" />
<rect x="419.55" y="267.75" width="2.3" height="2.3" fill="#3c2a86" />
<rect x="432.45" y="266.75" width="2.3" height="2.3" fill="#3c2a86" />
<rect x="419.55" y="270.95" width="2.3" height="2.3" fill="#3c2a86" />
<rect x="422.45" y="271.45" width="2.3" height="2.3" fill="#3c2a86" />
<rect x="425.95" y="273.15" width="2.3" height="2.3" fill="#3c2a86" />
<rect x="429.15" y="271.75" width="2.3" height="2.3" fill="#3c2a86" />
<rect x="432.45" y="270.95" width="2.3" height="2.3" fill="#3c2a86" />
<rect x="425.95" y="277.45" width="2.3" height="2.3" fill="#3c2a86" />
<rect x="424.35" y="267.35" width="2.3" height="2.3" fill="#3c2a86" />
<rect x="427.85" y="268.35" width="2.3" height="2.3" fill="#3c2a86" />
<line x1="389.3" y1="276" x2="411.3" y2="276" stroke="#111" stroke-width="1.1" />
<line x1="416.3" y1="268.6" x2="438.3" y2="268.6" stroke="#111" stroke-width="1.1" />
<text x="396" y="305.6" font-size="5.6" fill="#1e1e1e" stroke="#1e1e1e" stroke-width="0.15" textLength="8.3" lengthAdjust="spacingAndGlyphs" >WT</text>
<text x="395" y="313.4" font-size="5.6" fill="#1e1e1e" stroke="#1e1e1e" stroke-width="0.15" textLength="10" lengthAdjust="spacingAndGlyphs" >n=9</text>
<text x="419.7" y="305.6" font-size="5.6" fill="#1e1e1e" stroke="#1e1e1e" stroke-width="0.15" textLength="14.6" lengthAdjust="spacingAndGlyphs" >Nix-/-</text>
<text x="420" y="313.4" font-size="5.6" fill="#1e1e1e" stroke="#1e1e1e" stroke-width="0.15" textLength="14.3" lengthAdjust="spacingAndGlyphs" >n=14</text>
<rect x="0.75" y="0.75" width="518.5" height="320.5" fill="none" stroke="#3c3c3c" stroke-width="1.5"/>
</svg>
</body></html>
